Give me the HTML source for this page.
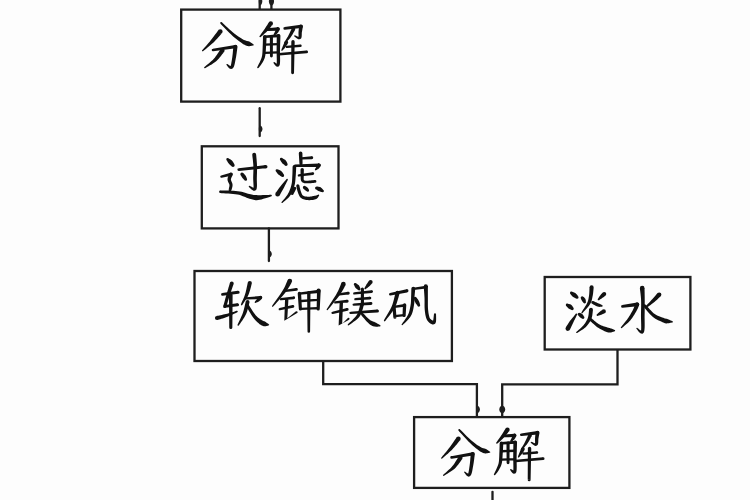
<!DOCTYPE html>
<html><head><meta charset="utf-8"><style>
html,body{margin:0;padding:0;background:#fdfdfd;width:750px;height:500px;overflow:hidden}
svg{display:block}
.w{}
</style></head><body>
<div class="w"><svg width="750" height="500" viewBox="0 0 750 500">
<g fill="none" stroke="#1e1e1e" stroke-width="2.3" stroke-linejoin="miter" stroke-linecap="butt">
<rect x="181.2" y="9.6" width="159.20" height="92.00"/>
<rect x="201.8" y="146.3" width="136.70" height="82.10"/>
<rect x="194.5" y="271.0" width="257.40" height="90.00"/>
<rect x="544.7" y="277.0" width="145.70" height="72.50"/>
<rect x="414.1" y="417.1" width="155.30" height="70.80"/>
<polyline points="259.7,0 259.7,9.6"/>
<polyline points="271.4,0 271.4,9.6"/>
<polyline points="323.2,361 323.2,384.1 476.9,384.1 476.9,417.1"/>
<polyline points="617.5,349.5 617.5,384.3 502.2,384.3 502.2,417.1"/>
<line x1="492.5" y1="491.8" x2="492.5" y2="502" stroke-linecap="round"/>
<line x1="259.7" y1="108.2" x2="259.7" y2="136" stroke-linecap="round"/>
<line x1="268.9" y1="228.4" x2="268.9" y2="261" stroke-linecap="round"/>
</g>
<g fill="#1e1e1e">
<path d="M259.7,-3 C261.14,-3 262.3,-1.10 262.3,1.25 C262.3,3.60 261.14,5.5 259.7,5.5 C259.20,5.5 258.8,3.60 258.8,1.25 C258.8,-1.10 259.20,-3 259.7,-3Z"/>
<path d="M271.4,-3 C272.84,-3 274.0,-1.10 274.0,1.25 C274.0,3.60 272.84,5.5 271.4,5.5 C270.02,5.5 268.9,3.60 268.9,1.25 C268.9,-1.10 270.02,-3 271.4,-3Z"/>
<path d="M259.7,125.5 C261.25,125.5 262.5,127.07 262.5,129.0 C262.5,130.93 261.25,132.5 259.7,132.5 C259.20,132.5 258.8,130.93 258.8,129.0 C258.8,127.07 259.20,125.5 259.7,125.5Z"/>
<path d="M268.9,250.5 C270.50,250.5 271.79999999999995,252.07 271.79999999999995,254.0 C271.79999999999995,255.93 270.50,257.5 268.9,257.5 C268.40,257.5 268.0,255.93 268.0,254.0 C268.0,252.07 268.40,250.5 268.9,250.5Z"/>
<path d="M476.9,405.8 C478.56,405.8 479.9,407.46 479.9,409.5 C479.9,411.54 478.56,413.2 476.9,413.2 C476.40,413.2 476.0,411.54 476.0,409.5 C476.0,407.46 476.40,405.8 476.9,405.8Z"/>
<path d="M502.2,405.8 C503.86,405.8 505.2,407.46 505.2,409.5 C505.2,411.54 503.86,413.2 502.2,413.2 C500.60,413.2 499.3,411.54 499.3,409.5 C499.3,407.46 500.60,405.8 502.2,405.8Z"/>
</g>
<g fill="#111" stroke="#111" stroke-width="1.1" stroke-linejoin="round">
<path stroke="none" d="M218.49,30.02 L217.88,30.84 L217.09,31.92 L216.16,33.20 L215.12,34.61 L214.02,36.10 L212.90,37.60 L211.80,39.04 L210.76,40.35 L209.68,41.66 L208.50,43.06 L207.25,44.49 L206.00,45.91 L204.81,47.25 L203.73,48.45 L202.83,49.47 L202.15,50.23 L203.05,51.17 L203.84,50.53 L204.90,49.68 L206.16,48.67 L207.56,47.54 L209.04,46.33 L210.52,45.09 L211.94,43.84 L213.24,42.65 L214.50,41.40 L215.79,40.05 L217.09,38.64 L218.35,37.24 L219.53,35.91 L220.58,34.71 L221.45,33.72 L222.11,32.98ZM217.96,31.50a2.34,2.34 0 1,0 4.68,0a2.34,2.34 0 1,0 -4.68,0ZM201.95,50.70a0.65,0.65 0 1,0 1.30,0a0.65,0.65 0 1,0 -1.30,0Z"/>
<path stroke="none" d="M220.47,23.74 L221.40,24.69 L222.65,25.98 L224.15,27.52 L225.80,29.22 L227.53,30.98 L229.26,32.71 L230.90,34.31 L232.37,35.68 L233.72,36.88 L235.04,38.01 L236.33,39.08 L237.59,40.07 L238.79,40.98 L239.93,41.82 L241.00,42.59 L242.00,43.27 L242.93,43.89 L243.79,44.42 L244.58,44.86 L245.31,45.23 L245.99,45.52 L246.62,45.75 L247.21,45.91 L247.84,46.05 L248.59,46.13 L249.38,46.13 L250.17,46.05 L250.91,45.93 L251.60,45.78 L252.20,45.64 L252.70,45.51 L253.08,45.44 L253.32,44.16 L252.99,43.95 L252.55,43.66 L252.04,43.32 L251.48,42.94 L250.89,42.56 L250.30,42.19 L249.73,41.85 L249.16,41.55 L248.54,41.32 L247.93,41.15 L247.37,41.02 L246.81,40.92 L246.23,40.79 L245.59,40.61 L244.86,40.34 L244.00,39.93 L243.01,39.39 L241.93,38.77 L240.76,38.07 L239.54,37.31 L238.26,36.47 L236.94,35.56 L235.60,34.57 L234.23,33.52 L232.74,32.27 L231.06,30.79 L229.28,29.17 L227.48,27.50 L225.77,25.88 L224.21,24.41 L222.90,23.16 L221.93,22.26ZM220.16,23.00a1.04,1.04 0 1,0 2.08,0a1.04,1.04 0 1,0 -2.08,0ZM252.55,44.80a0.65,0.65 0 1,0 1.30,0a0.65,0.65 0 1,0 -1.30,0Z"/>
<path stroke="none" d="M213.19,51.29 L235.75,48.27 L235.25,44.93 L212.81,48.71ZM211.70,50.00a1.30,1.30 0 1,0 2.60,0a1.30,1.30 0 1,0 -2.60,0ZM233.81,46.60a1.69,1.69 0 1,0 3.38,0a1.69,1.69 0 1,0 -3.38,0Z"/>
<path stroke="none" d="M233.33,46.56 L233.25,47.45 L233.15,48.64 L233.03,50.04 L232.90,51.59 L232.75,53.21 L232.58,54.81 L232.40,56.33 L232.21,57.69 L232.00,59.04 L231.78,60.46 L231.55,61.87 L231.31,63.21 L231.06,64.42 L230.80,65.40 L230.58,66.05 L230.58,66.22 L230.98,66.15 L230.99,66.23 L230.52,66.10 L229.85,65.76 L229.14,65.29 L228.46,64.79 L227.85,64.36 L227.41,64.09 L226.59,65.11 L226.89,65.44 L227.30,65.98 L227.83,66.67 L228.45,67.42 L229.15,68.14 L230.00,68.76 L231.22,69.08 L232.62,68.58 L233.44,67.59 L233.95,66.50 L234.35,65.28 L234.69,63.94 L234.99,62.51 L235.27,61.06 L235.53,59.65 L235.79,58.31 L236.07,56.89 L236.33,55.32 L236.57,53.67 L236.80,52.03 L237.01,50.48 L237.19,49.07 L237.35,47.90 L237.47,47.04ZM233.32,46.80a2.08,2.08 0 1,0 4.16,0a2.08,2.08 0 1,0 -4.16,0ZM226.35,64.60a0.65,0.65 0 1,0 1.30,0a0.65,0.65 0 1,0 -1.30,0Z"/>
<path stroke="none" d="M220.62,49.10 L220.08,49.89 L219.39,50.95 L218.60,52.19 L217.71,53.54 L216.76,54.95 L215.78,56.34 L214.79,57.64 L213.82,58.79 L212.76,59.90 L211.50,61.08 L210.14,62.29 L208.74,63.47 L207.38,64.58 L206.14,65.58 L205.10,66.42 L204.33,67.07 L205.07,68.13 L205.93,67.63 L207.09,66.99 L208.49,66.21 L210.04,65.33 L211.66,64.38 L213.27,63.36 L214.80,62.30 L216.18,61.21 L217.44,60.02 L218.68,58.69 L219.86,57.30 L220.98,55.91 L221.99,54.58 L222.88,53.39 L223.62,52.41 L224.18,51.70ZM220.19,50.40a2.21,2.21 0 1,0 4.42,0a2.21,2.21 0 1,0 -4.42,0ZM204.05,67.60a0.65,0.65 0 1,0 1.30,0a0.65,0.65 0 1,0 -1.30,0Z"/>
<path stroke="none" d="M269.00,22.12 L268.66,22.66 L268.22,23.37 L267.70,24.21 L267.13,25.13 L266.51,26.11 L265.89,27.09 L265.27,28.05 L264.69,28.94 L264.07,29.83 L263.38,30.82 L262.65,31.84 L261.91,32.85 L261.20,33.82 L260.56,34.69 L260.02,35.42 L259.62,35.98 L260.78,37.02 L261.28,36.57 L261.97,35.98 L262.78,35.27 L263.69,34.47 L264.64,33.62 L265.59,32.75 L266.49,31.89 L267.31,31.06 L268.09,30.22 L268.88,29.31 L269.65,28.38 L270.40,27.46 L271.09,26.59 L271.70,25.81 L272.21,25.16 L272.60,24.68ZM268.59,23.40a2.21,2.21 0 1,0 4.42,0a2.21,2.21 0 1,0 -4.42,0ZM259.42,36.50a0.78,0.78 0 1,0 1.56,0a0.78,0.78 0 1,0 -1.56,0Z"/>
<path stroke="none" d="M267.07,30.90 L278.09,30.69 L277.91,27.31 L266.93,28.30ZM265.70,29.60a1.30,1.30 0 1,0 2.60,0a1.30,1.30 0 1,0 -2.60,0ZM276.31,29.00a1.69,1.69 0 1,0 3.38,0a1.69,1.69 0 1,0 -3.38,0Z"/>
<path stroke="none" d="M276.36,28.21 L276.26,28.47 L276.12,28.81 L275.97,29.19 L275.81,29.60 L275.64,30.03 L275.48,30.45 L275.32,30.83 L275.18,31.16 L275.04,31.49 L274.87,31.86 L274.68,32.26 L274.47,32.65 L274.27,33.04 L274.09,33.39 L273.92,33.69 L273.80,33.92 L275.20,35.08 L275.39,34.93 L275.66,34.74 L275.98,34.50 L276.34,34.22 L276.72,33.91 L277.11,33.58 L277.48,33.22 L277.82,32.84 L278.12,32.42 L278.42,31.98 L278.69,31.53 L278.94,31.09 L279.17,30.67 L279.36,30.30 L279.52,30.00 L279.64,29.79ZM276.18,29.00a1.82,1.82 0 1,0 3.64,0a1.82,1.82 0 1,0 -3.64,0ZM273.59,34.50a0.91,0.91 0 1,0 1.82,0a0.91,0.91 0 1,0 -1.82,0Z"/>
<path stroke="none" d="M262.98,36.73 L262.96,37.44 L262.94,38.37 L262.92,39.47 L262.89,40.71 L262.85,42.01 L262.81,43.35 L262.77,44.66 L262.71,45.90 L262.66,47.15 L262.61,48.45 L262.56,49.76 L262.51,51.07 L262.44,52.34 L262.34,53.56 L262.22,54.68 L262.07,55.69 L261.88,56.59 L261.65,57.43 L261.40,58.22 L261.11,58.98 L260.81,59.71 L260.49,60.44 L260.16,61.18 L259.84,61.90 L259.53,62.63 L259.18,63.37 L258.81,64.12 L258.43,64.85 L258.07,65.53 L257.74,66.15 L257.46,66.67 L257.24,67.08 L258.56,67.92 L258.83,67.58 L259.20,67.13 L259.65,66.58 L260.15,65.96 L260.67,65.29 L261.20,64.57 L261.70,63.83 L262.16,63.10 L262.56,62.39 L262.97,61.68 L263.37,60.94 L263.78,60.15 L264.16,59.30 L264.52,58.38 L264.85,57.39 L265.13,56.31 L265.35,55.14 L265.53,53.90 L265.66,52.60 L265.77,51.27 L265.85,49.93 L265.93,48.60 L266.00,47.32 L266.09,46.10 L266.18,44.84 L266.26,43.51 L266.34,42.16 L266.41,40.84 L266.48,39.61 L266.53,38.50 L266.58,37.57 L266.62,36.87ZM262.98,36.80a1.82,1.82 0 1,0 3.64,0a1.82,1.82 0 1,0 -3.64,0ZM257.12,67.50a0.78,0.78 0 1,0 1.56,0a0.78,0.78 0 1,0 -1.56,0Z"/>
<path stroke="none" d="M264.89,38.10 L278.71,37.36 L278.49,34.24 L264.71,35.50ZM263.50,36.80a1.30,1.30 0 1,0 2.60,0a1.30,1.30 0 1,0 -2.60,0ZM277.04,35.80a1.56,1.56 0 1,0 3.12,0a1.56,1.56 0 1,0 -3.12,0Z"/>
<path stroke="none" d="M276.78,35.76 L276.77,36.85 L276.75,38.30 L276.72,40.02 L276.70,41.94 L276.67,43.97 L276.65,46.04 L276.63,48.07 L276.61,49.98 L276.62,51.95 L276.66,54.08 L276.71,56.28 L276.76,58.44 L276.79,60.45 L276.77,62.20 L276.71,63.56 L276.62,64.30 L276.84,64.17 L277.49,64.06 L277.41,64.10 L276.90,63.85 L276.28,63.41 L275.67,62.91 L275.11,62.46 L274.70,62.20 L273.70,63.40 L273.94,63.68 L274.31,64.20 L274.79,64.87 L275.37,65.60 L276.07,66.28 L277.10,66.81 L278.68,66.51 L279.58,65.30 L279.90,63.94 L280.04,62.34 L280.10,60.46 L280.09,58.39 L280.05,56.21 L280.00,54.02 L279.97,51.92 L279.99,50.02 L280.04,48.13 L280.10,46.11 L280.16,44.04 L280.23,42.01 L280.29,40.10 L280.34,38.38 L280.39,36.93 L280.42,35.84ZM276.78,35.80a1.82,1.82 0 1,0 3.64,0a1.82,1.82 0 1,0 -3.64,0ZM273.42,62.80a0.78,0.78 0 1,0 1.56,0a0.78,0.78 0 1,0 -1.56,0Z"/>
<path stroke="none" d="M269.84,36.50 L269.97,56.00 L272.83,56.00 L272.96,36.50ZM269.84,36.50a1.56,1.56 0 1,0 3.12,0a1.56,1.56 0 1,0 -3.12,0ZM269.97,56.00a1.43,1.43 0 1,0 2.86,0a1.43,1.43 0 1,0 -2.86,0Z"/>
<path stroke="none" d="M265.04,45.77 L278.14,45.27 L278.06,42.93 L264.96,43.43ZM263.83,44.60a1.17,1.17 0 1,0 2.34,0a1.17,1.17 0 1,0 -2.34,0ZM276.93,44.10a1.17,1.17 0 1,0 2.34,0a1.17,1.17 0 1,0 -2.34,0Z"/>
<path stroke="none" d="M264.63,53.97 L278.13,53.57 L278.07,51.23 L264.57,51.63ZM263.43,52.80a1.17,1.17 0 1,0 2.34,0a1.17,1.17 0 1,0 -2.34,0ZM276.93,52.40a1.17,1.17 0 1,0 2.34,0a1.17,1.17 0 1,0 -2.34,0Z"/>
<path stroke="none" d="M284.86,29.69 L301.21,28.08 L300.79,24.72 L284.54,27.11ZM283.40,28.40a1.30,1.30 0 1,0 2.60,0a1.30,1.30 0 1,0 -2.60,0ZM299.31,26.40a1.69,1.69 0 1,0 3.38,0a1.69,1.69 0 1,0 -3.38,0Z"/>
<path stroke="none" d="M299.07,26.12 L299.03,26.55 L298.97,27.12 L298.90,27.80 L298.82,28.56 L298.74,29.38 L298.66,30.21 L298.59,31.02 L298.52,31.83 L298.48,32.71 L298.50,33.64 L298.53,34.55 L298.56,35.40 L298.56,36.14 L298.54,36.68 L298.53,36.90 L298.79,36.72 L299.13,36.67 L298.91,36.72 L298.35,36.63 L297.63,36.41 L296.88,36.13 L296.16,35.83 L295.54,35.57 L295.09,35.42 L294.51,36.58 L294.86,36.83 L295.36,37.22 L295.99,37.71 L296.69,38.23 L297.45,38.72 L298.25,39.14 L299.21,39.37 L300.41,39.08 L301.22,38.17 L301.54,37.26 L301.69,36.36 L301.74,35.44 L301.76,34.52 L301.77,33.64 L301.80,32.84 L301.88,32.17 L302.01,31.47 L302.15,30.69 L302.30,29.89 L302.45,29.10 L302.60,28.35 L302.73,27.68 L302.85,27.11 L302.93,26.68ZM299.05,26.40a1.95,1.95 0 1,0 3.90,0a1.95,1.95 0 1,0 -3.90,0ZM294.15,36.00a0.65,0.65 0 1,0 1.30,0a0.65,0.65 0 1,0 -1.30,0Z"/>
<path stroke="none" d="M291.88,28.16 L291.60,28.77 L291.23,29.58 L290.79,30.53 L290.31,31.58 L289.80,32.67 L289.28,33.77 L288.77,34.81 L288.29,35.74 L287.79,36.65 L287.23,37.62 L286.64,38.62 L286.04,39.60 L285.47,40.53 L284.95,41.36 L284.51,42.07 L284.18,42.61 L285.22,43.39 L285.64,42.94 L286.21,42.35 L286.90,41.64 L287.66,40.84 L288.46,39.97 L289.25,39.07 L290.02,38.16 L290.71,37.26 L291.36,36.31 L292.02,35.27 L292.67,34.19 L293.29,33.11 L293.86,32.08 L294.37,31.16 L294.79,30.40 L295.12,29.84ZM291.68,29.00a1.82,1.82 0 1,0 3.64,0a1.82,1.82 0 1,0 -3.64,0ZM284.05,43.00a0.65,0.65 0 1,0 1.30,0a0.65,0.65 0 1,0 -1.30,0Z"/>
<path stroke="none" d="M284.79,41.55 L284.64,41.88 L284.45,42.33 L284.22,42.86 L283.96,43.44 L283.70,44.05 L283.43,44.66 L283.18,45.25 L282.96,45.79 L282.75,46.32 L282.52,46.89 L282.28,47.48 L282.05,48.06 L281.84,48.62 L281.64,49.11 L281.48,49.54 L281.35,49.85 L282.45,50.55 L282.68,50.30 L282.99,49.97 L283.36,49.59 L283.77,49.15 L284.20,48.68 L284.64,48.19 L285.06,47.70 L285.44,47.21 L285.81,46.71 L286.18,46.15 L286.56,45.58 L286.92,45.00 L287.26,44.45 L287.57,43.96 L287.82,43.55 L288.01,43.25ZM284.58,42.40a1.82,1.82 0 1,0 3.64,0a1.82,1.82 0 1,0 -3.64,0ZM281.25,50.20a0.65,0.65 0 1,0 1.30,0a0.65,0.65 0 1,0 -1.30,0Z"/>
<path stroke="none" d="M287.10,48.07 L300.51,47.10 L300.29,44.50 L286.90,45.73ZM285.83,46.90a1.17,1.17 0 1,0 2.34,0a1.17,1.17 0 1,0 -2.34,0ZM299.10,45.80a1.30,1.30 0 1,0 2.60,0a1.30,1.30 0 1,0 -2.60,0Z"/>
<path stroke="none" d="M279.11,55.50 L306.72,53.33 L306.48,50.47 L278.89,52.90ZM277.70,54.20a1.30,1.30 0 1,0 2.60,0a1.30,1.30 0 1,0 -2.60,0ZM305.17,51.90a1.43,1.43 0 1,0 2.86,0a1.43,1.43 0 1,0 -2.86,0Z"/>
<path stroke="none" d="M291.31,41.78 L291.17,72.78 L294.03,72.82 L294.69,41.82ZM291.31,41.80a1.69,1.69 0 1,0 3.38,0a1.69,1.69 0 1,0 -3.38,0ZM291.17,72.80a1.43,1.43 0 1,0 2.86,0a1.43,1.43 0 1,0 -2.86,0Z"/>
<path stroke="none" d="M226.71,160.34 L226.88,160.62 L227.11,160.99 L227.38,161.43 L227.67,161.91 L227.98,162.40 L228.29,162.88 L228.59,163.32 L228.87,163.69 L229.17,164.04 L229.54,164.41 L229.94,164.79 L230.35,165.16 L230.75,165.52 L231.12,165.85 L231.44,166.13 L231.67,166.35 L234.33,164.25 L234.18,163.99 L234.00,163.62 L233.77,163.18 L233.51,162.69 L233.21,162.17 L232.88,161.65 L232.52,161.15 L232.13,160.71 L231.68,160.31 L231.18,159.95 L230.65,159.61 L230.12,159.30 L229.61,159.03 L229.15,158.80 L228.77,158.61 L228.49,158.46ZM226.30,159.40a1.30,1.30 0 1,0 2.60,0a1.30,1.30 0 1,0 -2.60,0ZM231.31,165.30a1.69,1.69 0 1,0 3.38,0a1.69,1.69 0 1,0 -3.38,0Z"/>
<path stroke="none" d="M221.68,177.74 L231.38,175.71 L230.62,172.69 L221.12,175.46ZM220.23,176.60a1.17,1.17 0 1,0 2.34,0a1.17,1.17 0 1,0 -2.34,0ZM229.44,174.20a1.56,1.56 0 1,0 3.12,0a1.56,1.56 0 1,0 -3.12,0Z"/>
<path stroke="none" d="M229.31,173.52 L229.17,173.90 L228.95,174.41 L228.67,175.08 L228.36,175.85 L228.05,176.69 L227.78,177.59 L227.58,178.52 L227.51,179.51 L227.63,180.49 L227.90,181.37 L228.23,182.16 L228.59,182.86 L228.91,183.49 L229.18,184.06 L229.36,184.53 L229.45,184.94 L229.46,185.41 L229.41,186.01 L229.31,186.68 L229.17,187.37 L229.01,188.05 L228.85,188.67 L228.70,189.23 L228.61,189.67 L231.39,190.33 L231.49,189.97 L231.64,189.46 L231.84,188.82 L232.06,188.09 L232.26,187.29 L232.43,186.45 L232.54,185.57 L232.55,184.66 L232.41,183.75 L232.15,182.91 L231.83,182.15 L231.51,181.45 L231.24,180.83 L231.03,180.28 L230.91,179.84 L230.89,179.49 L230.95,179.08 L231.10,178.52 L231.33,177.87 L231.62,177.19 L231.93,176.52 L232.23,175.89 L232.50,175.32 L232.69,174.88ZM229.18,174.20a1.82,1.82 0 1,0 3.64,0a1.82,1.82 0 1,0 -3.64,0ZM228.57,190.00a1.43,1.43 0 1,0 2.86,0a1.43,1.43 0 1,0 -2.86,0Z"/>
<path stroke="none" d="M220.34,193.10 L221.71,193.19 L223.56,193.28 L225.75,193.39 L228.17,193.53 L230.66,193.70 L233.12,193.91 L235.39,194.16 L237.33,194.47 L239.03,194.86 L240.65,195.35 L242.21,195.90 L243.73,196.49 L245.20,197.09 L246.65,197.68 L248.07,198.21 L249.45,198.64 L250.64,198.99 L251.65,199.31 L252.60,199.60 L253.55,199.85 L254.54,200.04 L255.62,200.15 L256.79,200.16 L258.13,200.07 L259.72,199.81 L261.51,199.40 L263.41,198.87 L265.33,198.29 L267.16,197.69 L268.83,197.14 L270.21,196.69 L271.23,196.37 L270.97,194.83 L269.90,194.87 L268.43,194.92 L266.68,194.99 L264.77,195.05 L262.82,195.11 L260.93,195.15 L259.25,195.16 L257.87,195.13 L256.78,195.10 L255.87,195.06 L255.10,195.02 L254.37,194.96 L253.60,194.88 L252.73,194.75 L251.71,194.58 L250.55,194.36 L249.31,194.08 L248.00,193.71 L246.56,193.27 L245.02,192.80 L243.38,192.31 L241.63,191.85 L239.79,191.44 L237.87,191.13 L235.73,190.92 L233.35,190.77 L230.83,190.67 L228.28,190.61 L225.85,190.57 L223.65,190.55 L221.81,190.53 L220.46,190.50ZM219.10,191.80a1.30,1.30 0 1,0 2.60,0a1.30,1.30 0 1,0 -2.60,0ZM270.32,195.60a0.78,0.78 0 1,0 1.56,0a0.78,0.78 0 1,0 -1.56,0Z"/>
<path stroke="none" d="M238.84,170.89 L262.66,168.55 L265.81,168.62 L265.59,164.98 L262.34,165.45 L238.56,168.31ZM237.40,169.60a1.30,1.30 0 1,0 2.60,0a1.30,1.30 0 1,0 -2.60,0ZM263.88,166.80a1.82,1.82 0 1,0 3.64,0a1.82,1.82 0 1,0 -3.64,0Z"/>
<path stroke="none" d="M252.26,154.79 L252.36,155.69 L252.49,156.88 L252.66,158.29 L252.84,159.84 L253.01,161.49 L253.17,163.16 L253.30,164.77 L253.38,166.26 L253.42,167.69 L253.42,169.14 L253.39,170.61 L253.35,172.09 L253.30,173.56 L253.24,175.04 L253.20,176.51 L253.18,177.99 L253.21,179.55 L253.29,181.20 L253.39,182.85 L253.48,184.44 L253.54,185.89 L253.55,187.09 L253.49,187.91 L253.51,188.12 L253.97,187.89 L254.05,187.94 L253.53,187.84 L252.77,187.52 L251.94,187.07 L251.13,186.60 L250.43,186.18 L249.91,185.94 L249.09,187.26 L249.46,187.57 L250.01,188.09 L250.71,188.75 L251.51,189.45 L252.38,190.11 L253.37,190.63 L254.72,190.76 L256.09,189.88 L256.65,188.63 L256.87,187.34 L256.96,185.90 L256.96,184.33 L256.91,182.69 L256.85,181.04 L256.81,179.46 L256.82,178.01 L256.86,176.61 L256.91,175.16 L256.96,173.68 L257.00,172.19 L257.03,170.68 L257.05,169.17 L257.05,167.65 L257.02,166.14 L256.95,164.55 L256.85,162.87 L256.73,161.16 L256.59,159.48 L256.45,157.90 L256.32,156.48 L256.21,155.30 L256.14,154.41ZM252.25,154.60a1.95,1.95 0 1,0 3.90,0a1.95,1.95 0 1,0 -3.90,0ZM248.72,186.60a0.78,0.78 0 1,0 1.56,0a0.78,0.78 0 1,0 -1.56,0Z"/>
<path stroke="none" d="M240.67,175.24 L240.81,175.46 L240.99,175.75 L241.20,176.10 L241.43,176.48 L241.68,176.87 L241.93,177.26 L242.18,177.62 L242.41,177.93 L242.65,178.23 L242.93,178.54 L243.23,178.87 L243.54,179.18 L243.83,179.49 L244.10,179.76 L244.33,179.99 L244.50,180.17 L246.90,178.63 L246.81,178.41 L246.70,178.11 L246.57,177.75 L246.41,177.34 L246.23,176.91 L246.04,176.48 L245.82,176.06 L245.59,175.67 L245.32,175.30 L245.01,174.92 L244.69,174.55 L244.35,174.20 L244.03,173.87 L243.74,173.58 L243.51,173.34 L243.33,173.16ZM240.31,174.20a1.69,1.69 0 1,0 3.38,0a1.69,1.69 0 1,0 -3.38,0ZM244.27,179.40a1.43,1.43 0 1,0 2.86,0a1.43,1.43 0 1,0 -2.86,0Z"/>
<path stroke="none" d="M280.34,160.36 L280.50,160.59 L280.70,160.91 L280.93,161.27 L281.18,161.67 L281.44,162.07 L281.71,162.47 L281.97,162.83 L282.21,163.13 L282.47,163.40 L282.79,163.70 L283.15,164.01 L283.51,164.31 L283.87,164.60 L284.20,164.87 L284.49,165.10 L284.70,165.28 L287.30,163.12 L287.18,162.90 L287.02,162.58 L286.83,162.20 L286.60,161.77 L286.34,161.32 L286.06,160.88 L285.74,160.45 L285.39,160.07 L285.00,159.73 L284.57,159.43 L284.11,159.15 L283.65,158.91 L283.21,158.69 L282.82,158.51 L282.49,158.36 L282.26,158.24ZM279.87,159.30a1.43,1.43 0 1,0 2.86,0a1.43,1.43 0 1,0 -2.86,0ZM284.31,164.20a1.69,1.69 0 1,0 3.38,0a1.69,1.69 0 1,0 -3.38,0Z"/>
<path stroke="none" d="M276.13,171.73 L276.30,171.96 L276.53,172.26 L276.80,172.62 L277.09,173.01 L277.40,173.42 L277.73,173.81 L278.05,174.17 L278.36,174.48 L278.71,174.76 L279.13,175.06 L279.58,175.35 L280.05,175.64 L280.50,175.92 L280.92,176.16 L281.27,176.37 L281.53,176.54 L283.67,174.26 L283.50,174.02 L283.28,173.68 L283.01,173.28 L282.70,172.83 L282.37,172.37 L282.01,171.91 L281.63,171.49 L281.24,171.12 L280.81,170.81 L280.34,170.53 L279.85,170.28 L279.36,170.06 L278.89,169.87 L278.48,169.71 L278.13,169.58 L277.87,169.47ZM275.57,170.60a1.43,1.43 0 1,0 2.86,0a1.43,1.43 0 1,0 -2.86,0ZM281.04,175.40a1.56,1.56 0 1,0 3.12,0a1.56,1.56 0 1,0 -3.12,0Z"/>
<path stroke="none" d="M279.57,195.46 L279.88,194.91 L280.30,194.17 L280.79,193.30 L281.34,192.33 L281.92,191.30 L282.51,190.24 L283.09,189.19 L283.63,188.19 L284.16,187.16 L284.75,186.03 L285.35,184.84 L285.94,183.66 L286.50,182.53 L287.01,181.52 L287.43,180.67 L287.75,180.03 L286.45,179.17 L285.99,179.71 L285.37,180.44 L284.64,181.30 L283.82,182.26 L282.97,183.28 L282.12,184.30 L281.31,185.29 L280.57,186.21 L279.88,187.11 L279.15,188.07 L278.43,189.05 L277.73,190.02 L277.08,190.92 L276.49,191.74 L276.00,192.42 L275.63,192.94ZM275.26,194.20a2.34,2.34 0 1,0 4.68,0a2.34,2.34 0 1,0 -4.68,0ZM286.32,179.60a0.78,0.78 0 1,0 1.56,0a0.78,0.78 0 1,0 -1.56,0Z"/>
<path stroke="none" d="M298.78,153.27 L299.44,163.66 L302.56,163.54 L302.42,153.13ZM298.78,153.20a1.82,1.82 0 1,0 3.64,0a1.82,1.82 0 1,0 -3.64,0ZM299.44,163.60a1.56,1.56 0 1,0 3.12,0a1.56,1.56 0 1,0 -3.12,0Z"/>
<path stroke="none" d="M301.77,159.57 L311.88,159.23 L311.72,156.37 L301.63,157.23ZM300.53,158.40a1.17,1.17 0 1,0 2.34,0a1.17,1.17 0 1,0 -2.34,0ZM310.37,157.80a1.43,1.43 0 1,0 2.86,0a1.43,1.43 0 1,0 -2.86,0Z"/>
<path stroke="none" d="M295.03,167.10 L319.04,166.89 L318.96,163.51 L294.97,164.50ZM293.70,165.80a1.30,1.30 0 1,0 2.60,0a1.30,1.30 0 1,0 -2.60,0ZM317.31,165.20a1.69,1.69 0 1,0 3.38,0a1.69,1.69 0 1,0 -3.38,0Z"/>
<path stroke="none" d="M317.41,164.32 L317.31,164.53 L317.18,164.81 L317.05,165.11 L316.90,165.44 L316.75,165.77 L316.60,166.10 L316.47,166.40 L316.37,166.65 L316.25,166.91 L316.10,167.22 L315.91,167.56 L315.72,167.91 L315.52,168.25 L315.34,168.56 L315.18,168.83 L315.06,169.04 L316.14,170.16 L316.34,170.06 L316.61,169.94 L316.94,169.78 L317.31,169.59 L317.70,169.37 L318.09,169.13 L318.48,168.86 L318.83,168.55 L319.15,168.21 L319.45,167.84 L319.71,167.47 L319.95,167.11 L320.16,166.77 L320.34,166.47 L320.48,166.24 L320.59,166.08ZM317.18,165.20a1.82,1.82 0 1,0 3.64,0a1.82,1.82 0 1,0 -3.64,0ZM314.82,169.60a0.78,0.78 0 1,0 1.56,0a0.78,0.78 0 1,0 -1.56,0Z"/>
<path stroke="none" d="M292.58,166.73 L292.56,167.45 L292.55,168.40 L292.53,169.53 L292.50,170.77 L292.47,172.09 L292.43,173.41 L292.38,174.69 L292.31,175.89 L292.25,177.02 L292.20,178.15 L292.15,179.26 L292.09,180.34 L292.01,181.41 L291.89,182.47 L291.72,183.54 L291.49,184.62 L291.19,185.76 L290.85,186.95 L290.47,188.14 L290.05,189.33 L289.58,190.51 L289.09,191.66 L288.56,192.77 L288.00,193.83 L287.34,194.89 L286.53,196.04 L285.62,197.22 L284.67,198.38 L283.74,199.48 L282.89,200.47 L282.16,201.31 L281.63,201.95 L282.57,202.85 L283.18,202.31 L284.02,201.62 L285.03,200.77 L286.15,199.82 L287.31,198.78 L288.45,197.68 L289.51,196.53 L290.40,195.37 L291.15,194.19 L291.81,192.96 L292.39,191.70 L292.92,190.42 L293.38,189.13 L293.80,187.85 L294.17,186.60 L294.51,185.38 L294.81,184.16 L295.04,182.95 L295.21,181.77 L295.33,180.61 L295.43,179.47 L295.51,178.35 L295.59,177.24 L295.69,176.11 L295.79,174.90 L295.88,173.58 L295.95,172.23 L296.02,170.90 L296.09,169.64 L296.14,168.52 L296.18,167.57 L296.22,166.87ZM292.58,166.80a1.82,1.82 0 1,0 3.64,0a1.82,1.82 0 1,0 -3.64,0ZM281.45,202.40a0.65,0.65 0 1,0 1.30,0a0.65,0.65 0 1,0 -1.30,0Z"/>
<path stroke="none" d="M299.05,176.56 L313.07,174.89 L312.73,172.31 L298.75,174.24ZM297.73,175.40a1.17,1.17 0 1,0 2.34,0a1.17,1.17 0 1,0 -2.34,0ZM311.60,173.60a1.30,1.30 0 1,0 2.60,0a1.30,1.30 0 1,0 -2.60,0Z"/>
<path stroke="none" d="M300.51,169.59 L300.52,170.09 L300.52,170.78 L300.53,171.60 L300.54,172.50 L300.56,173.45 L300.58,174.39 L300.60,175.27 L300.64,176.03 L300.67,176.68 L300.67,177.33 L300.68,177.98 L300.69,178.64 L300.74,179.31 L300.84,179.99 L301.04,180.68 L301.37,181.32 L301.75,181.83 L302.18,182.26 L302.69,182.61 L303.25,182.87 L303.85,183.05 L304.47,183.16 L305.15,183.24 L305.94,183.30 L306.93,183.32 L308.13,183.29 L309.46,183.23 L310.83,183.14 L312.16,183.04 L313.38,182.95 L314.39,182.87 L315.12,182.83 L314.88,179.97 L314.14,180.05 L313.12,180.16 L311.91,180.30 L310.60,180.44 L309.27,180.56 L308.00,180.66 L306.90,180.71 L306.06,180.70 L305.42,180.65 L304.90,180.57 L304.52,180.48 L304.27,180.38 L304.13,180.28 L304.03,180.18 L303.94,180.05 L303.83,179.88 L303.76,179.70 L303.72,179.44 L303.69,179.07 L303.68,178.58 L303.70,178.01 L303.73,177.38 L303.75,176.68 L303.76,175.97 L303.76,175.22 L303.77,174.37 L303.79,173.45 L303.81,172.52 L303.83,171.63 L303.86,170.81 L303.88,170.12 L303.89,169.61ZM300.51,169.60a1.69,1.69 0 1,0 3.38,0a1.69,1.69 0 1,0 -3.38,0ZM313.57,181.40a1.43,1.43 0 1,0 2.86,0a1.43,1.43 0 1,0 -2.86,0Z"/>
<path stroke="none" d="M293.06,187.71 L291.01,193.27 L293.39,194.33 L296.14,189.09ZM292.91,188.40a1.69,1.69 0 1,0 3.38,0a1.69,1.69 0 1,0 -3.38,0ZM290.90,193.80a1.30,1.30 0 1,0 2.60,0a1.30,1.30 0 1,0 -2.60,0Z"/>
<path stroke="none" d="M296.28,186.16 L296.40,186.64 L296.54,187.29 L296.72,188.08 L296.92,188.96 L297.14,189.89 L297.39,190.82 L297.65,191.72 L297.93,192.52 L298.19,193.22 L298.44,193.91 L298.71,194.62 L299.02,195.34 L299.38,196.06 L299.83,196.77 L300.39,197.44 L301.06,198.05 L301.82,198.54 L302.63,198.94 L303.48,199.27 L304.35,199.52 L305.24,199.73 L306.13,199.88 L307.02,200.00 L307.91,200.09 L308.85,200.14 L309.85,200.15 L310.86,200.12 L311.88,200.05 L312.88,199.94 L313.83,199.79 L314.71,199.59 L315.53,199.34 L316.30,198.98 L316.97,198.51 L317.51,198.00 L317.94,197.48 L318.27,197.00 L318.52,196.58 L318.71,196.25 L318.87,196.02 L317.93,194.78 L317.61,194.91 L317.22,195.08 L316.79,195.25 L316.34,195.42 L315.86,195.56 L315.39,195.68 L314.94,195.78 L314.47,195.86 L313.87,195.97 L313.13,196.12 L312.31,196.27 L311.44,196.42 L310.56,196.55 L309.68,196.65 L308.85,196.71 L308.09,196.71 L307.34,196.67 L306.57,196.60 L305.82,196.51 L305.10,196.38 L304.44,196.21 L303.84,196.02 L303.34,195.79 L302.94,195.55 L302.62,195.28 L302.34,194.95 L302.08,194.53 L301.83,194.04 L301.60,193.47 L301.36,192.84 L301.12,192.16 L300.87,191.48 L300.63,190.78 L300.40,189.99 L300.17,189.12 L299.96,188.24 L299.76,187.39 L299.59,186.61 L299.44,185.94 L299.32,185.44ZM296.24,185.80a1.56,1.56 0 1,0 3.12,0a1.56,1.56 0 1,0 -3.12,0ZM317.62,195.40a0.78,0.78 0 1,0 1.56,0a0.78,0.78 0 1,0 -1.56,0Z"/>
<path stroke="none" d="M303.46,188.64 L303.59,188.77 L303.76,188.95 L303.95,189.15 L304.16,189.37 L304.38,189.60 L304.60,189.81 L304.81,190.01 L305.00,190.16 L305.20,190.31 L305.44,190.46 L305.71,190.62 L305.98,190.79 L306.25,190.94 L306.50,191.09 L306.71,191.21 L306.87,191.31 L308.73,189.49 L308.64,189.34 L308.54,189.13 L308.40,188.87 L308.24,188.59 L308.06,188.29 L307.86,187.98 L307.64,187.70 L307.40,187.44 L307.14,187.20 L306.84,186.99 L306.54,186.80 L306.24,186.63 L305.95,186.47 L305.70,186.34 L305.49,186.24 L305.34,186.16ZM302.84,187.40a1.56,1.56 0 1,0 3.12,0a1.56,1.56 0 1,0 -3.12,0ZM306.50,190.40a1.30,1.30 0 1,0 2.60,0a1.30,1.30 0 1,0 -2.60,0Z"/>
<path stroke="none" d="M316.04,189.46 L316.27,189.60 L316.56,189.78 L316.89,190.00 L317.25,190.23 L317.62,190.47 L318.00,190.70 L318.35,190.90 L318.67,191.06 L319.01,191.20 L319.43,191.34 L319.90,191.49 L320.38,191.64 L320.85,191.78 L321.27,191.91 L321.64,192.02 L321.92,192.11 L323.28,189.89 L323.10,189.70 L322.85,189.42 L322.54,189.08 L322.20,188.71 L321.81,188.33 L321.41,187.96 L320.98,187.62 L320.53,187.34 L320.06,187.12 L319.56,186.96 L319.06,186.83 L318.57,186.74 L318.12,186.67 L317.72,186.62 L317.39,186.58 L317.16,186.54ZM315.04,188.00a1.56,1.56 0 1,0 3.12,0a1.56,1.56 0 1,0 -3.12,0ZM321.30,191.00a1.30,1.30 0 1,0 2.60,0a1.30,1.30 0 1,0 -2.60,0Z"/>
<path stroke="none" d="M222.58,295.69 L238.32,293.74 L237.88,290.66 L222.22,293.11ZM221.10,294.40a1.30,1.30 0 1,0 2.60,0a1.30,1.30 0 1,0 -2.60,0ZM236.54,292.20a1.56,1.56 0 1,0 3.12,0a1.56,1.56 0 1,0 -3.12,0Z"/>
<path stroke="none" d="M229.94,282.80 L229.70,283.61 L229.39,284.67 L229.01,285.94 L228.59,287.36 L228.14,288.88 L227.67,290.44 L227.22,292.00 L226.78,293.51 L226.34,295.07 L225.85,296.80 L225.34,298.61 L224.84,300.42 L224.36,302.14 L223.93,303.69 L223.57,305.00 L223.30,305.97 L226.30,306.83 L226.59,305.86 L226.97,304.56 L227.43,303.02 L227.93,301.31 L228.47,299.52 L229.01,297.73 L229.53,296.02 L230.02,294.49 L230.50,293.03 L231.01,291.51 L231.54,289.98 L232.06,288.49 L232.56,287.10 L233.00,285.85 L233.37,284.80 L233.66,284.00ZM229.85,283.40a1.95,1.95 0 1,0 3.90,0a1.95,1.95 0 1,0 -3.90,0ZM223.24,306.40a1.56,1.56 0 1,0 3.12,0a1.56,1.56 0 1,0 -3.12,0Z"/>
<path stroke="none" d="M224.98,307.82 L237.69,306.35 L237.31,303.25 L224.62,304.98ZM223.37,306.40a1.43,1.43 0 1,0 2.86,0a1.43,1.43 0 1,0 -2.86,0ZM235.94,304.80a1.56,1.56 0 1,0 3.12,0a1.56,1.56 0 1,0 -3.12,0Z"/>
<path stroke="none" d="M228.98,295.00 L229.24,327.40 L232.36,327.40 L232.62,295.00ZM228.98,295.00a1.82,1.82 0 1,0 3.64,0a1.82,1.82 0 1,0 -3.64,0ZM229.24,327.40a1.56,1.56 0 1,0 3.12,0a1.56,1.56 0 1,0 -3.12,0Z"/>
<path stroke="none" d="M217.52,320.01 L218.21,319.80 L219.12,319.52 L220.22,319.18 L221.45,318.80 L222.76,318.39 L224.12,317.94 L225.47,317.47 L226.78,316.99 L228.12,316.44 L229.59,315.82 L231.11,315.14 L232.63,314.46 L234.07,313.80 L235.37,313.20 L236.46,312.70 L237.27,312.33 L236.73,310.87 L235.87,311.12 L234.72,311.47 L233.35,311.88 L231.83,312.33 L230.25,312.79 L228.67,313.25 L227.17,313.66 L225.82,314.01 L224.54,314.32 L223.20,314.62 L221.84,314.91 L220.52,315.18 L219.27,315.43 L218.15,315.65 L217.20,315.84 L216.48,315.99ZM214.92,318.00a2.08,2.08 0 1,0 4.16,0a2.08,2.08 0 1,0 -4.16,0ZM236.22,311.60a0.78,0.78 0 1,0 1.56,0a0.78,0.78 0 1,0 -1.56,0Z"/>
<path stroke="none" d="M247.78,282.51 L247.58,283.42 L247.34,284.63 L247.06,286.05 L246.74,287.61 L246.39,289.24 L246.01,290.87 L245.62,292.41 L245.22,293.80 L244.76,295.16 L244.20,296.63 L243.59,298.14 L242.95,299.64 L242.32,301.05 L241.75,302.33 L241.27,303.41 L240.91,304.23 L242.29,304.97 L242.77,304.23 L243.42,303.26 L244.21,302.10 L245.08,300.79 L245.98,299.38 L246.86,297.92 L247.68,296.45 L248.38,295.00 L248.98,293.50 L249.54,291.87 L250.05,290.18 L250.51,288.52 L250.93,286.94 L251.28,285.52 L251.58,284.36 L251.82,283.49ZM247.72,283.00a2.08,2.08 0 1,0 4.16,0a2.08,2.08 0 1,0 -4.16,0ZM240.82,304.60a0.78,0.78 0 1,0 1.56,0a0.78,0.78 0 1,0 -1.56,0Z"/>
<path stroke="none" d="M246.06,299.57 L260.59,299.16 L260.41,296.04 L245.94,297.23ZM244.83,298.40a1.17,1.17 0 1,0 2.34,0a1.17,1.17 0 1,0 -2.34,0ZM258.94,297.60a1.56,1.56 0 1,0 3.12,0a1.56,1.56 0 1,0 -3.12,0Z"/>
<path stroke="none" d="M259.17,296.36 L259.00,296.56 L258.78,296.83 L258.53,297.14 L258.25,297.48 L257.96,297.83 L257.68,298.19 L257.40,298.53 L257.16,298.84 L256.90,299.17 L256.60,299.54 L256.28,299.93 L255.96,300.33 L255.64,300.72 L255.35,301.06 L255.11,301.36 L254.93,301.58 L255.87,302.82 L256.13,302.70 L256.48,302.55 L256.89,302.37 L257.36,302.17 L257.85,301.94 L258.34,301.69 L258.81,301.43 L259.24,301.16 L259.65,300.86 L260.05,300.53 L260.44,300.19 L260.80,299.85 L261.13,299.52 L261.42,299.24 L261.65,299.01 L261.83,298.84ZM258.68,297.60a1.82,1.82 0 1,0 3.64,0a1.82,1.82 0 1,0 -3.64,0ZM254.62,302.20a0.78,0.78 0 1,0 1.56,0a0.78,0.78 0 1,0 -1.56,0Z"/>
<path stroke="none" d="M245.71,301.52 L245.49,302.44 L245.23,303.65 L244.92,305.07 L244.57,306.64 L244.18,308.28 L243.75,309.92 L243.31,311.51 L242.84,312.96 L242.28,314.43 L241.60,316.05 L240.83,317.74 L240.04,319.42 L239.27,321.02 L238.56,322.47 L237.96,323.69 L237.52,324.61 L238.88,325.39 L239.44,324.55 L240.21,323.44 L241.14,322.12 L242.16,320.63 L243.21,319.05 L244.23,317.42 L245.17,315.80 L245.96,314.24 L246.63,312.65 L247.22,310.96 L247.74,309.23 L248.21,307.54 L248.62,305.95 L248.96,304.52 L249.25,303.35 L249.49,302.48ZM245.65,302.00a1.95,1.95 0 1,0 3.90,0a1.95,1.95 0 1,0 -3.90,0ZM237.42,325.00a0.78,0.78 0 1,0 1.56,0a0.78,0.78 0 1,0 -1.56,0Z"/>
<path stroke="none" d="M245.99,305.96 L246.53,306.85 L247.26,308.08 L248.13,309.55 L249.10,311.17 L250.11,312.84 L251.12,314.47 L252.09,315.96 L252.96,317.23 L253.76,318.30 L254.53,319.25 L255.28,320.12 L256.00,320.89 L256.71,321.60 L257.39,322.24 L258.03,322.82 L258.68,323.37 L259.34,323.91 L260.00,324.41 L260.65,324.85 L261.28,325.23 L261.90,325.56 L262.50,325.83 L263.09,326.04 L263.71,326.20 L264.41,326.30 L265.14,326.31 L265.83,326.23 L266.48,326.10 L267.06,325.94 L267.56,325.78 L267.96,325.65 L268.27,325.57 L268.53,324.03 L268.24,323.85 L267.87,323.60 L267.44,323.32 L266.99,323.00 L266.52,322.68 L266.08,322.35 L265.68,322.06 L265.29,321.80 L264.86,321.56 L264.39,321.34 L263.92,321.14 L263.45,320.94 L262.96,320.73 L262.45,320.49 L261.91,320.20 L261.32,319.83 L260.67,319.39 L260.00,318.95 L259.32,318.48 L258.62,317.98 L257.91,317.42 L257.17,316.77 L256.41,316.03 L255.64,315.17 L254.77,314.07 L253.79,312.70 L252.74,311.16 L251.69,309.55 L250.68,307.98 L249.76,306.54 L248.99,305.32 L248.41,304.44ZM245.77,305.20a1.43,1.43 0 1,0 2.86,0a1.43,1.43 0 1,0 -2.86,0ZM267.62,324.80a0.78,0.78 0 1,0 1.56,0a0.78,0.78 0 1,0 -1.56,0Z"/>
<path stroke="none" d="M287.71,279.94 L287.37,280.73 L286.96,281.72 L286.50,282.85 L285.98,284.12 L285.37,285.50 L284.68,286.96 L283.89,288.49 L283.00,290.05 L281.88,291.83 L280.48,293.92 L278.91,296.20 L277.28,298.52 L275.68,300.77 L274.21,302.82 L272.98,304.54 L272.09,305.80 L273.11,306.60 L274.13,305.45 L275.53,303.88 L277.21,302.00 L279.05,299.93 L280.94,297.78 L282.76,295.66 L284.42,293.68 L285.80,291.95 L286.94,290.38 L287.97,288.84 L288.89,287.36 L289.70,285.98 L290.40,284.73 L291.00,283.63 L291.49,282.74 L291.89,282.06ZM287.46,281.00a2.34,2.34 0 1,0 4.68,0a2.34,2.34 0 1,0 -4.68,0ZM271.95,306.20a0.65,0.65 0 1,0 1.30,0a0.65,0.65 0 1,0 -1.30,0Z"/>
<path stroke="none" d="M285.55,291.96 L296.58,290.82 L296.22,287.98 L285.25,289.64ZM284.23,290.80a1.17,1.17 0 1,0 2.34,0a1.17,1.17 0 1,0 -2.34,0ZM294.97,289.40a1.43,1.43 0 1,0 2.86,0a1.43,1.43 0 1,0 -2.86,0Z"/>
<path stroke="none" d="M281.13,300.36 L293.86,299.22 L293.54,296.38 L280.87,298.04ZM279.83,299.20a1.17,1.17 0 1,0 2.34,0a1.17,1.17 0 1,0 -2.34,0ZM292.27,297.80a1.43,1.43 0 1,0 2.86,0a1.43,1.43 0 1,0 -2.86,0Z"/>
<path stroke="none" d="M280.04,310.34 L293.20,307.80 L292.60,305.00 L279.56,308.06ZM278.63,309.20a1.17,1.17 0 1,0 2.34,0a1.17,1.17 0 1,0 -2.34,0ZM291.47,306.40a1.43,1.43 0 1,0 2.86,0a1.43,1.43 0 1,0 -2.86,0Z"/>
<path stroke="none" d="M285.01,299.92 L284.29,320.63 L297.18,313.07 L296.02,311.33 L287.31,318.17 L288.39,300.08ZM285.01,300.00a1.69,1.69 0 1,0 3.38,0a1.69,1.69 0 1,0 -3.38,0ZM295.56,312.20a1.04,1.04 0 1,0 2.08,0a1.04,1.04 0 1,0 -2.08,0Z"/>
<path stroke="none" d="M297.71,293.51 L298.84,309.10 L301.96,308.90 L301.09,293.29ZM297.71,293.40a1.69,1.69 0 1,0 3.38,0a1.69,1.69 0 1,0 -3.38,0ZM298.84,309.00a1.56,1.56 0 1,0 3.12,0a1.56,1.56 0 1,0 -3.12,0Z"/>
<path stroke="none" d="M299.53,294.76 L319.07,292.95 L318.73,289.85 L299.27,292.44ZM298.23,293.60a1.17,1.17 0 1,0 2.34,0a1.17,1.17 0 1,0 -2.34,0ZM317.34,291.40a1.56,1.56 0 1,0 3.12,0a1.56,1.56 0 1,0 -3.12,0Z"/>
<path stroke="none" d="M316.54,290.89 L316.98,291.96 L316.64,308.94 L319.76,309.06 L320.62,292.04 L320.66,290.31ZM316.52,290.60a2.08,2.08 0 1,0 4.16,0a2.08,2.08 0 1,0 -4.16,0ZM316.64,309.00a1.56,1.56 0 1,0 3.12,0a1.56,1.56 0 1,0 -3.12,0Z"/>
<path stroke="none" d="M301.28,302.17 L317.88,300.97 L317.72,298.63 L301.12,299.83ZM300.03,301.00a1.17,1.17 0 1,0 2.34,0a1.17,1.17 0 1,0 -2.34,0ZM316.63,299.80a1.17,1.17 0 1,0 2.34,0a1.17,1.17 0 1,0 -2.34,0Z"/>
<path stroke="none" d="M301.04,309.97 L317.84,309.37 L317.76,307.03 L300.96,307.63ZM299.83,308.80a1.17,1.17 0 1,0 2.34,0a1.17,1.17 0 1,0 -2.34,0ZM316.63,308.20a1.17,1.17 0 1,0 2.34,0a1.17,1.17 0 1,0 -2.34,0Z"/>
<path stroke="none" d="M307.11,292.60 L307.50,331.40 L310.10,331.40 L310.49,292.60ZM307.11,292.60a1.69,1.69 0 1,0 3.38,0a1.69,1.69 0 1,0 -3.38,0ZM307.50,331.40a1.30,1.30 0 1,0 2.60,0a1.30,1.30 0 1,0 -2.60,0Z"/>
<path stroke="none" d="M341.29,283.19 L340.98,283.95 L340.61,284.91 L340.20,286.01 L339.72,287.24 L339.17,288.58 L338.53,290.01 L337.81,291.53 L336.98,293.09 L335.92,294.89 L334.60,297.03 L333.12,299.36 L331.58,301.75 L330.06,304.06 L328.68,306.16 L327.52,307.92 L326.67,309.22 L327.73,309.98 L328.70,308.79 L330.04,307.16 L331.64,305.22 L333.40,303.08 L335.20,300.86 L336.94,298.68 L338.52,296.66 L339.82,294.91 L340.91,293.34 L341.87,291.81 L342.73,290.36 L343.48,289.01 L344.13,287.80 L344.68,286.74 L345.14,285.88 L345.51,285.21ZM341.06,284.20a2.34,2.34 0 1,0 4.68,0a2.34,2.34 0 1,0 -4.68,0ZM326.55,309.60a0.65,0.65 0 1,0 1.30,0a0.65,0.65 0 1,0 -1.30,0Z"/>
<path stroke="none" d="M339.25,295.56 L348.48,294.62 L348.12,291.78 L338.95,293.24ZM337.93,294.40a1.17,1.17 0 1,0 2.34,0a1.17,1.17 0 1,0 -2.34,0ZM346.87,293.20a1.43,1.43 0 1,0 2.86,0a1.43,1.43 0 1,0 -2.86,0Z"/>
<path stroke="none" d="M335.42,303.56 L347.34,302.62 L347.06,299.78 L335.18,301.24ZM334.13,302.40a1.17,1.17 0 1,0 2.34,0a1.17,1.17 0 1,0 -2.34,0ZM345.77,301.20a1.43,1.43 0 1,0 2.86,0a1.43,1.43 0 1,0 -2.86,0Z"/>
<path stroke="none" d="M332.87,313.94 L347.52,310.79 L346.88,308.01 L332.33,311.66ZM331.43,312.80a1.17,1.17 0 1,0 2.34,0a1.17,1.17 0 1,0 -2.34,0ZM345.77,309.40a1.43,1.43 0 1,0 2.86,0a1.43,1.43 0 1,0 -2.86,0Z"/>
<path stroke="none" d="M339.61,302.83 L338.62,325.40 L349.11,319.65 L347.89,317.95 L342.18,323.80 L342.99,302.97ZM339.61,302.90a1.69,1.69 0 1,0 3.38,0a1.69,1.69 0 1,0 -3.38,0ZM347.46,318.80a1.04,1.04 0 1,0 2.08,0a1.04,1.04 0 1,0 -2.08,0Z"/>
<path stroke="none" d="M354.15,285.37 L354.26,285.58 L354.41,285.87 L354.57,286.20 L354.76,286.57 L354.96,286.95 L355.18,287.32 L355.39,287.66 L355.61,287.95 L355.86,288.21 L356.17,288.49 L356.51,288.77 L356.86,289.04 L357.20,289.30 L357.51,289.53 L357.78,289.73 L357.97,289.88 L360.23,288.12 L360.13,287.90 L360.01,287.60 L359.86,287.24 L359.69,286.83 L359.50,286.41 L359.28,286.00 L359.05,285.60 L358.79,285.25 L358.49,284.94 L358.14,284.65 L357.78,284.38 L357.40,284.13 L357.04,283.91 L356.72,283.72 L356.45,283.56 L356.25,283.43ZM353.77,284.40a1.43,1.43 0 1,0 2.86,0a1.43,1.43 0 1,0 -2.86,0ZM357.67,289.00a1.43,1.43 0 1,0 2.86,0a1.43,1.43 0 1,0 -2.86,0Z"/>
<path stroke="none" d="M368.98,280.69 L368.80,280.96 L368.56,281.30 L368.28,281.71 L367.97,282.17 L367.64,282.65 L367.31,283.15 L366.99,283.65 L366.70,284.12 L366.41,284.61 L366.10,285.16 L365.78,285.74 L365.47,286.31 L365.17,286.86 L364.90,287.36 L364.68,287.78 L364.51,288.09 L365.69,289.11 L365.97,288.89 L366.35,288.61 L366.81,288.27 L367.31,287.89 L367.83,287.48 L368.35,287.07 L368.85,286.67 L369.30,286.28 L369.72,285.89 L370.15,285.47 L370.58,285.04 L370.99,284.61 L371.37,284.20 L371.71,283.84 L372.00,283.53 L372.22,283.31ZM368.52,282.00a2.08,2.08 0 1,0 4.16,0a2.08,2.08 0 1,0 -4.16,0ZM364.32,288.60a0.78,0.78 0 1,0 1.56,0a0.78,0.78 0 1,0 -1.56,0Z"/>
<path stroke="none" d="M354.42,294.56 L371.75,293.02 L371.45,290.18 L354.18,292.24ZM353.13,293.40a1.17,1.17 0 1,0 2.34,0a1.17,1.17 0 1,0 -2.34,0ZM370.17,291.60a1.43,1.43 0 1,0 2.86,0a1.43,1.43 0 1,0 -2.86,0Z"/>
<path stroke="none" d="M355.49,300.37 L370.01,299.53 L369.79,296.67 L355.31,298.03ZM354.23,299.20a1.17,1.17 0 1,0 2.34,0a1.17,1.17 0 1,0 -2.34,0ZM368.47,298.10a1.43,1.43 0 1,0 2.86,0a1.43,1.43 0 1,0 -2.86,0Z"/>
<path stroke="none" d="M353.77,305.77 L371.09,304.93 L370.91,302.07 L353.63,303.43ZM352.53,304.60a1.17,1.17 0 1,0 2.34,0a1.17,1.17 0 1,0 -2.34,0ZM369.57,303.50a1.43,1.43 0 1,0 2.86,0a1.43,1.43 0 1,0 -2.86,0Z"/>
<path stroke="none" d="M360.84,289.00 L360.84,304.60 L363.96,304.60 L363.96,289.00ZM360.84,289.00a1.56,1.56 0 1,0 3.12,0a1.56,1.56 0 1,0 -3.12,0ZM360.84,304.60a1.56,1.56 0 1,0 3.12,0a1.56,1.56 0 1,0 -3.12,0Z"/>
<path stroke="none" d="M350.58,313.97 L377.50,312.56 L377.30,309.44 L350.42,311.63ZM349.33,312.80a1.17,1.17 0 1,0 2.34,0a1.17,1.17 0 1,0 -2.34,0ZM375.84,311.00a1.56,1.56 0 1,0 3.12,0a1.56,1.56 0 1,0 -3.12,0Z"/>
<path stroke="none" d="M360.07,305.25 L359.82,306.09 L359.53,307.20 L359.21,308.46 L358.84,309.84 L358.41,311.25 L357.91,312.65 L357.35,313.95 L356.73,315.10 L355.91,316.25 L354.82,317.53 L353.55,318.87 L352.21,320.20 L350.89,321.47 L349.66,322.61 L348.63,323.57 L347.88,324.30 L348.72,325.30 L349.55,324.69 L350.70,323.90 L352.09,322.95 L353.61,321.87 L355.18,320.71 L356.71,319.48 L358.10,318.21 L359.27,316.90 L360.21,315.49 L360.99,313.97 L361.64,312.40 L362.18,310.86 L362.62,309.42 L362.98,308.13 L363.28,307.10 L363.53,306.35ZM359.98,305.80a1.82,1.82 0 1,0 3.64,0a1.82,1.82 0 1,0 -3.64,0ZM347.65,324.80a0.65,0.65 0 1,0 1.30,0a0.65,0.65 0 1,0 -1.30,0Z"/>
<path stroke="none" d="M360.84,314.68 L361.38,315.30 L362.11,316.17 L362.98,317.21 L363.95,318.36 L364.97,319.53 L365.97,320.67 L366.93,321.71 L367.79,322.58 L368.55,323.29 L369.25,323.91 L369.92,324.46 L370.57,324.95 L371.21,325.36 L371.85,325.71 L372.49,326.00 L373.20,326.26 L374.04,326.47 L374.98,326.60 L375.92,326.66 L376.85,326.66 L377.72,326.64 L378.49,326.60 L379.13,326.56 L379.61,326.56 L379.99,325.04 L379.56,324.81 L378.99,324.49 L378.32,324.11 L377.59,323.70 L376.83,323.27 L376.10,322.85 L375.42,322.47 L374.80,322.14 L374.19,321.86 L373.59,321.64 L373.03,321.46 L372.49,321.29 L371.94,321.10 L371.35,320.85 L370.70,320.50 L370.01,320.02 L369.19,319.35 L368.23,318.47 L367.18,317.46 L366.11,316.38 L365.08,315.32 L364.14,314.34 L363.35,313.52 L362.76,312.92ZM360.50,313.80a1.30,1.30 0 1,0 2.60,0a1.30,1.30 0 1,0 -2.60,0ZM379.02,325.80a0.78,0.78 0 1,0 1.56,0a0.78,0.78 0 1,0 -1.56,0Z"/>
<path stroke="none" d="M390.56,295.47 L407.14,292.46 L406.46,289.14 L390.04,292.93ZM389.00,294.20a1.30,1.30 0 1,0 2.60,0a1.30,1.30 0 1,0 -2.60,0ZM405.11,290.80a1.69,1.69 0 1,0 3.38,0a1.69,1.69 0 1,0 -3.38,0Z"/>
<path stroke="none" d="M395.59,292.25 L395.32,293.34 L394.99,294.78 L394.61,296.47 L394.18,298.32 L393.68,300.27 L393.13,302.23 L392.53,304.13 L391.87,305.88 L391.06,307.67 L390.05,309.65 L388.91,311.73 L387.73,313.79 L386.57,315.76 L385.50,317.54 L384.60,319.04 L383.95,320.17 L385.25,321.03 L386.02,319.99 L387.08,318.62 L388.35,316.97 L389.75,315.13 L391.19,313.17 L392.58,311.17 L393.86,309.20 L394.93,307.32 L395.82,305.41 L396.61,303.39 L397.31,301.34 L397.92,299.33 L398.46,297.44 L398.91,295.77 L399.29,294.38 L399.61,293.35ZM395.52,292.80a2.08,2.08 0 1,0 4.16,0a2.08,2.08 0 1,0 -4.16,0ZM383.82,320.60a0.78,0.78 0 1,0 1.56,0a0.78,0.78 0 1,0 -1.56,0Z"/>
<path stroke="none" d="M392.32,306.95 L393.35,317.33 L396.45,317.07 L395.68,306.65ZM392.31,306.80a1.69,1.69 0 1,0 3.38,0a1.69,1.69 0 1,0 -3.38,0ZM393.34,317.20a1.56,1.56 0 1,0 3.12,0a1.56,1.56 0 1,0 -3.12,0Z"/>
<path stroke="none" d="M394.15,307.96 L404.69,306.82 L404.31,303.98 L393.85,305.64ZM392.83,306.80a1.17,1.17 0 1,0 2.34,0a1.17,1.17 0 1,0 -2.34,0ZM403.07,305.40a1.43,1.43 0 1,0 2.86,0a1.43,1.43 0 1,0 -2.86,0Z"/>
<path stroke="none" d="M402.91,304.92 L402.54,315.33 L405.66,315.47 L406.29,305.08ZM402.91,305.00a1.69,1.69 0 1,0 3.38,0a1.69,1.69 0 1,0 -3.38,0ZM402.54,315.40a1.56,1.56 0 1,0 3.12,0a1.56,1.56 0 1,0 -3.12,0Z"/>
<path stroke="none" d="M395.03,317.36 L404.23,316.36 L403.97,314.04 L394.77,315.04ZM393.73,316.20a1.17,1.17 0 1,0 2.34,0a1.17,1.17 0 1,0 -2.34,0ZM402.93,315.20a1.17,1.17 0 1,0 2.34,0a1.17,1.17 0 1,0 -2.34,0Z"/>
<path stroke="none" d="M411.35,288.48 L411.34,289.14 L411.32,290.01 L411.29,291.04 L411.26,292.19 L411.23,293.40 L411.20,294.63 L411.16,295.81 L411.11,296.91 L411.08,297.94 L411.05,298.94 L411.03,299.90 L411.01,300.84 L410.96,301.77 L410.89,302.71 L410.79,303.68 L410.63,304.73 L410.44,305.88 L410.23,307.10 L410.00,308.33 L409.74,309.58 L409.44,310.82 L409.09,312.04 L408.69,313.23 L408.22,314.37 L407.61,315.58 L406.80,316.93 L405.88,318.36 L404.89,319.78 L403.91,321.13 L403.01,322.36 L402.25,323.40 L401.70,324.19 L402.70,325.01 L403.36,324.34 L404.27,323.45 L405.37,322.39 L406.57,321.18 L407.81,319.89 L409.01,318.55 L410.09,317.18 L410.98,315.83 L411.67,314.47 L412.22,313.10 L412.66,311.71 L413.02,310.33 L413.31,308.99 L413.55,307.69 L413.76,306.45 L413.97,305.27 L414.15,304.12 L414.27,303.01 L414.33,301.96 L414.37,300.95 L414.39,299.97 L414.40,299.02 L414.43,298.07 L414.49,297.09 L414.57,296.01 L414.68,294.84 L414.79,293.62 L414.90,292.41 L415.01,291.26 L415.10,290.23 L415.19,289.36 L415.25,288.72ZM411.35,288.60a1.95,1.95 0 1,0 3.90,0a1.95,1.95 0 1,0 -3.90,0ZM401.55,324.60a0.65,0.65 0 1,0 1.30,0a0.65,0.65 0 1,0 -1.30,0Z"/>
<path stroke="none" d="M413.45,290.06 L426.29,288.62 L425.91,285.78 L413.15,287.74ZM412.13,288.90a1.17,1.17 0 1,0 2.34,0a1.17,1.17 0 1,0 -2.34,0ZM424.67,287.20a1.43,1.43 0 1,0 2.86,0a1.43,1.43 0 1,0 -2.86,0Z"/>
<path stroke="none" d="M423.72,286.47 L423.79,287.37 L423.88,288.56 L423.99,289.97 L424.10,291.54 L424.22,293.20 L424.34,294.89 L424.43,296.52 L424.51,298.04 L424.55,299.48 L424.56,300.96 L424.56,302.46 L424.55,303.96 L424.54,305.46 L424.56,306.93 L424.62,308.37 L424.72,309.75 L424.85,311.07 L425.01,312.37 L425.20,313.65 L425.41,314.89 L425.65,316.09 L425.94,317.23 L426.27,318.30 L426.67,319.31 L427.16,320.26 L427.75,321.11 L428.38,321.84 L429.04,322.47 L429.69,323.00 L430.32,323.44 L430.90,323.78 L431.41,324.04 L431.92,324.25 L432.49,324.41 L433.16,324.49 L433.95,324.37 L434.71,323.99 L435.28,323.42 L435.64,322.78 L435.89,322.06 L436.04,321.20 L436.10,320.20 L436.13,319.08 L436.12,317.92 L436.10,316.77 L436.07,315.73 L436.05,314.87 L436.04,314.26 L433.96,314.14 L433.88,314.76 L433.79,315.64 L433.68,316.67 L433.56,317.78 L433.41,318.88 L433.25,319.89 L433.07,320.68 L432.91,321.14 L432.78,321.31 L432.73,321.32 L432.83,321.18 L433.08,321.03 L433.29,320.97 L433.34,320.94 L433.23,320.88 L432.99,320.76 L432.64,320.58 L432.23,320.35 L431.78,320.08 L431.31,319.75 L430.85,319.37 L430.43,318.94 L430.05,318.45 L429.73,317.89 L429.45,317.18 L429.18,316.32 L428.93,315.35 L428.72,314.28 L428.53,313.14 L428.36,311.94 L428.21,310.70 L428.08,309.45 L427.98,308.18 L427.92,306.83 L427.89,305.42 L427.88,303.96 L427.88,302.47 L427.89,300.96 L427.89,299.45 L427.89,297.96 L427.88,296.42 L427.87,294.77 L427.87,293.08 L427.87,291.41 L427.87,289.83 L427.88,288.41 L427.88,287.22 L427.88,286.33ZM423.72,286.40a2.08,2.08 0 1,0 4.16,0a2.08,2.08 0 1,0 -4.16,0ZM433.96,314.20a1.04,1.04 0 1,0 2.08,0a1.04,1.04 0 1,0 -2.08,0Z"/>
<path stroke="none" d="M413.76,299.21 L413.88,299.47 L414.03,299.83 L414.21,300.24 L414.41,300.70 L414.62,301.18 L414.84,301.66 L415.07,302.12 L415.29,302.53 L415.54,302.95 L415.83,303.40 L416.15,303.88 L416.48,304.36 L416.80,304.81 L417.09,305.22 L417.34,305.57 L417.52,305.83 L420.08,304.57 L419.99,304.27 L419.87,303.87 L419.72,303.38 L419.56,302.84 L419.37,302.28 L419.17,301.71 L418.95,301.16 L418.71,300.67 L418.44,300.20 L418.13,299.73 L417.80,299.28 L417.47,298.85 L417.14,298.45 L416.85,298.10 L416.61,297.82 L416.44,297.59ZM413.54,298.40a1.56,1.56 0 1,0 3.12,0a1.56,1.56 0 1,0 -3.12,0ZM417.37,305.20a1.43,1.43 0 1,0 2.86,0a1.43,1.43 0 1,0 -2.86,0Z"/>
<path stroke="none" d="M570.57,294.17 L570.75,294.38 L570.98,294.67 L571.25,295.01 L571.55,295.38 L571.87,295.77 L572.21,296.14 L572.55,296.48 L572.87,296.77 L573.23,297.02 L573.65,297.27 L574.11,297.51 L574.57,297.74 L575.02,297.95 L575.43,298.14 L575.78,298.30 L576.03,298.42 L577.97,295.98 L577.79,295.76 L577.56,295.46 L577.29,295.10 L576.98,294.71 L576.64,294.30 L576.28,293.91 L575.90,293.54 L575.53,293.23 L575.12,292.97 L574.66,292.74 L574.18,292.53 L573.70,292.34 L573.24,292.18 L572.82,292.04 L572.48,291.93 L572.23,291.83ZM569.97,293.00a1.43,1.43 0 1,0 2.86,0a1.43,1.43 0 1,0 -2.86,0ZM575.44,297.20a1.56,1.56 0 1,0 3.12,0a1.56,1.56 0 1,0 -3.12,0Z"/>
<path stroke="none" d="M566.47,306.23 L566.64,306.41 L566.86,306.66 L567.12,306.96 L567.40,307.27 L567.69,307.60 L567.98,307.91 L568.26,308.18 L568.51,308.39 L568.78,308.58 L569.13,308.77 L569.51,308.97 L569.90,309.17 L570.29,309.35 L570.65,309.52 L570.96,309.67 L571.19,309.79 L573.21,307.41 L573.08,307.22 L572.90,306.94 L572.68,306.61 L572.42,306.23 L572.13,305.84 L571.82,305.46 L571.47,305.11 L571.09,304.81 L570.68,304.56 L570.23,304.36 L569.76,304.20 L569.30,304.08 L568.87,303.97 L568.48,303.89 L568.16,303.83 L567.93,303.77ZM565.77,305.00a1.43,1.43 0 1,0 2.86,0a1.43,1.43 0 1,0 -2.86,0ZM570.64,308.60a1.56,1.56 0 1,0 3.12,0a1.56,1.56 0 1,0 -3.12,0Z"/>
<path stroke="none" d="M569.85,329.73 L570.11,329.18 L570.44,328.47 L570.84,327.64 L571.27,326.71 L571.74,325.72 L572.22,324.70 L572.70,323.70 L573.16,322.74 L573.64,321.74 L574.19,320.62 L574.77,319.45 L575.35,318.27 L575.91,317.14 L576.41,316.12 L576.84,315.26 L577.15,314.63 L575.85,313.77 L575.39,314.32 L574.78,315.05 L574.04,315.92 L573.23,316.88 L572.38,317.90 L571.54,318.93 L570.74,319.93 L570.04,320.86 L569.39,321.77 L568.75,322.73 L568.11,323.70 L567.51,324.64 L566.96,325.53 L566.47,326.32 L566.06,326.98 L565.75,327.47ZM565.46,328.60a2.34,2.34 0 1,0 4.68,0a2.34,2.34 0 1,0 -4.68,0ZM575.72,314.20a0.78,0.78 0 1,0 1.56,0a0.78,0.78 0 1,0 -1.56,0Z"/>
<path stroke="none" d="M580.94,298.71 L581.02,298.90 L581.14,299.14 L581.26,299.42 L581.39,299.72 L581.53,300.02 L581.67,300.31 L581.79,300.56 L581.91,300.77 L582.04,300.96 L582.21,301.19 L582.41,301.44 L582.61,301.70 L582.82,301.96 L583.00,302.20 L583.17,302.41 L583.29,302.57 L585.91,301.43 L585.88,301.25 L585.85,301.00 L585.82,300.70 L585.76,300.35 L585.69,299.97 L585.59,299.59 L585.46,299.20 L585.29,298.83 L585.08,298.49 L584.83,298.17 L584.56,297.88 L584.28,297.61 L584.02,297.37 L583.79,297.17 L583.60,297.01 L583.46,296.89ZM580.64,297.80a1.56,1.56 0 1,0 3.12,0a1.56,1.56 0 1,0 -3.12,0ZM583.17,302.00a1.43,1.43 0 1,0 2.86,0a1.43,1.43 0 1,0 -2.86,0Z"/>
<path stroke="none" d="M602.79,292.47 L602.59,292.69 L602.33,292.97 L602.02,293.32 L601.66,293.70 L601.29,294.12 L600.92,294.54 L600.56,294.97 L600.23,295.38 L599.91,295.81 L599.57,296.28 L599.24,296.78 L598.92,297.26 L598.62,297.73 L598.35,298.15 L598.12,298.50 L597.95,298.76 L599.25,300.04 L599.51,299.87 L599.86,299.64 L600.27,299.36 L600.73,299.06 L601.21,298.74 L601.69,298.42 L602.16,298.11 L602.57,297.82 L602.98,297.53 L603.41,297.21 L603.85,296.88 L604.29,296.55 L604.69,296.23 L605.06,295.95 L605.37,295.71 L605.61,295.53ZM602.12,294.00a2.08,2.08 0 1,0 4.16,0a2.08,2.08 0 1,0 -4.16,0ZM597.69,299.40a0.91,0.91 0 1,0 1.82,0a0.91,0.91 0 1,0 -1.82,0Z"/>
<path stroke="none" d="M589.53,287.24 L589.49,287.93 L589.46,288.84 L589.42,289.90 L589.38,291.08 L589.32,292.30 L589.24,293.51 L589.14,294.66 L589.01,295.70 L588.86,296.67 L588.71,297.61 L588.56,298.49 L588.39,299.34 L588.19,300.17 L587.94,301.02 L587.62,301.91 L587.23,302.86 L586.69,303.95 L585.97,305.23 L585.14,306.61 L584.25,308.01 L583.37,309.37 L582.56,310.60 L581.87,311.64 L581.38,312.41 L582.42,313.19 L583.02,312.52 L583.86,311.62 L584.87,310.54 L585.98,309.34 L587.11,308.07 L588.20,306.78 L589.18,305.52 L589.97,304.34 L590.58,303.25 L591.06,302.20 L591.45,301.18 L591.75,300.19 L591.99,299.21 L592.19,298.26 L592.39,297.30 L592.59,296.30 L592.81,295.17 L593.00,293.92 L593.16,292.64 L593.30,291.37 L593.42,290.17 L593.52,289.10 L593.60,288.22 L593.67,287.56ZM589.52,287.40a2.08,2.08 0 1,0 4.16,0a2.08,2.08 0 1,0 -4.16,0ZM581.25,312.80a0.65,0.65 0 1,0 1.30,0a0.65,0.65 0 1,0 -1.30,0Z"/>
<path stroke="none" d="M592.06,303.68 L592.47,303.91 L593.03,304.25 L593.70,304.65 L594.45,305.09 L595.24,305.53 L596.03,305.95 L596.79,306.31 L597.51,306.58 L598.19,306.76 L598.86,306.85 L599.48,306.88 L600.06,306.86 L600.58,306.82 L601.02,306.76 L601.37,306.72 L601.64,306.70 L601.96,304.90 L601.68,304.79 L601.33,304.64 L600.94,304.46 L600.51,304.27 L600.06,304.06 L599.61,303.84 L599.15,303.63 L598.69,303.42 L598.14,303.18 L597.46,302.88 L596.69,302.55 L595.89,302.21 L595.11,301.88 L594.39,301.57 L593.78,301.31 L593.34,301.12ZM591.27,302.40a1.43,1.43 0 1,0 2.86,0a1.43,1.43 0 1,0 -2.86,0ZM600.89,305.80a0.91,0.91 0 1,0 1.82,0a0.91,0.91 0 1,0 -1.82,0Z"/>
<path stroke="none" d="M578.24,315.43 L578.38,315.58 L578.56,315.79 L578.76,316.03 L578.99,316.30 L579.22,316.57 L579.46,316.83 L579.69,317.06 L579.90,317.25 L580.13,317.43 L580.40,317.61 L580.69,317.81 L581.00,318.00 L581.30,318.18 L581.57,318.34 L581.80,318.49 L581.98,318.60 L584.02,316.60 L583.92,316.43 L583.79,316.20 L583.64,315.92 L583.45,315.60 L583.24,315.27 L583.02,314.94 L582.77,314.63 L582.50,314.35 L582.20,314.10 L581.87,313.87 L581.53,313.66 L581.19,313.48 L580.86,313.32 L580.57,313.17 L580.33,313.06 L580.16,312.97ZM577.64,314.20a1.56,1.56 0 1,0 3.12,0a1.56,1.56 0 1,0 -3.12,0ZM581.57,317.60a1.43,1.43 0 1,0 2.86,0a1.43,1.43 0 1,0 -2.86,0Z"/>
<path stroke="none" d="M602.78,309.59 L602.55,309.75 L602.24,309.96 L601.86,310.22 L601.45,310.50 L601.01,310.81 L600.57,311.12 L600.15,311.43 L599.76,311.73 L599.39,312.05 L598.99,312.39 L598.59,312.75 L598.21,313.11 L597.85,313.45 L597.52,313.76 L597.25,314.02 L597.04,314.21 L597.96,315.79 L598.23,315.70 L598.59,315.59 L599.02,315.46 L599.49,315.31 L599.99,315.16 L600.50,314.99 L600.99,314.83 L601.44,314.67 L601.89,314.49 L602.36,314.30 L602.86,314.09 L603.34,313.87 L603.80,313.67 L604.21,313.49 L604.56,313.33 L604.82,313.21ZM601.72,311.40a2.08,2.08 0 1,0 4.16,0a2.08,2.08 0 1,0 -4.16,0ZM596.59,315.00a0.91,0.91 0 1,0 1.82,0a0.91,0.91 0 1,0 -1.82,0Z"/>
<path stroke="none" d="M589.06,309.56 L588.99,310.26 L588.91,311.19 L588.82,312.24 L588.72,313.39 L588.58,314.57 L588.40,315.73 L588.17,316.81 L587.89,317.76 L587.54,318.68 L587.12,319.64 L586.63,320.59 L586.10,321.55 L585.52,322.49 L584.90,323.43 L584.24,324.34 L583.56,325.22 L582.79,326.11 L581.86,327.06 L580.84,328.02 L579.78,328.97 L578.75,329.87 L577.80,330.67 L577.00,331.36 L576.41,331.88 L577.19,332.92 L577.84,332.51 L578.73,331.97 L579.81,331.33 L580.99,330.60 L582.23,329.81 L583.46,328.96 L584.62,328.08 L585.64,327.18 L586.53,326.27 L587.37,325.34 L588.16,324.36 L588.90,323.35 L589.59,322.31 L590.22,321.25 L590.79,320.16 L591.31,319.04 L591.74,317.80 L592.07,316.47 L592.32,315.14 L592.51,313.84 L592.65,312.62 L592.76,311.54 L592.85,310.68 L592.94,310.04ZM589.05,309.80a1.95,1.95 0 1,0 3.90,0a1.95,1.95 0 1,0 -3.90,0ZM576.15,332.40a0.65,0.65 0 1,0 1.30,0a0.65,0.65 0 1,0 -1.30,0Z"/>
<path stroke="none" d="M590.08,320.89 L590.64,321.39 L591.40,322.09 L592.32,322.92 L593.34,323.85 L594.43,324.81 L595.54,325.76 L596.64,326.65 L597.69,327.42 L598.71,328.10 L599.75,328.72 L600.79,329.30 L601.81,329.84 L602.80,330.32 L603.72,330.75 L604.57,331.14 L605.32,331.47 L606.00,331.76 L606.61,332.01 L607.17,332.21 L607.70,332.37 L608.21,332.48 L608.70,332.55 L609.18,332.59 L609.72,332.59 L610.36,332.55 L611.05,332.43 L611.74,332.26 L612.40,332.06 L613.03,331.85 L613.58,331.65 L614.04,331.49 L614.38,331.38 L614.42,329.82 L614.08,329.69 L613.61,329.51 L613.07,329.30 L612.48,329.07 L611.88,328.83 L611.29,328.60 L610.75,328.38 L610.28,328.21 L609.85,328.07 L609.45,327.97 L609.11,327.89 L608.78,327.83 L608.43,327.76 L608.02,327.67 L607.52,327.53 L606.88,327.33 L606.11,327.08 L605.24,326.81 L604.31,326.53 L603.35,326.21 L602.36,325.87 L601.38,325.48 L600.42,325.05 L599.51,324.58 L598.57,323.99 L597.52,323.24 L596.42,322.40 L595.32,321.53 L594.28,320.66 L593.34,319.87 L592.53,319.20 L591.92,318.71ZM589.57,319.80a1.43,1.43 0 1,0 2.86,0a1.43,1.43 0 1,0 -2.86,0ZM613.62,330.60a0.78,0.78 0 1,0 1.56,0a0.78,0.78 0 1,0 -1.56,0Z"/>
<path stroke="none" d="M639.87,288.36 L639.97,289.25 L640.12,290.41 L640.29,291.78 L640.48,293.30 L640.67,294.95 L640.84,296.65 L640.98,298.36 L641.08,300.04 L641.13,301.73 L641.15,303.49 L641.14,305.30 L641.12,307.17 L641.08,309.08 L641.04,311.02 L641.00,312.99 L640.98,314.99 L640.99,317.17 L641.05,319.58 L641.12,322.09 L641.18,324.56 L641.21,326.87 L641.19,328.87 L641.09,330.39 L640.98,331.15 L641.34,330.97 L641.69,331.00 L641.22,330.86 L640.42,330.35 L639.54,329.66 L638.70,328.92 L637.96,328.29 L637.43,327.91 L636.57,328.89 L636.94,329.31 L637.48,330.05 L638.16,330.97 L638.93,331.95 L639.79,332.85 L640.86,333.58 L642.52,333.67 L643.82,332.45 L644.30,330.92 L644.53,329.08 L644.65,326.93 L644.68,324.54 L644.66,322.02 L644.63,319.51 L644.60,317.14 L644.62,315.01 L644.66,313.05 L644.69,311.08 L644.71,309.13 L644.72,307.21 L644.73,305.32 L644.73,303.48 L644.72,301.69 L644.72,299.96 L644.71,298.22 L644.69,296.45 L644.66,294.70 L644.63,293.02 L644.60,291.46 L644.57,290.08 L644.55,288.93 L644.53,288.04ZM639.86,288.20a2.34,2.34 0 1,0 4.68,0a2.34,2.34 0 1,0 -4.68,0ZM636.35,328.40a0.65,0.65 0 1,0 1.30,0a0.65,0.65 0 1,0 -1.30,0Z"/>
<path stroke="none" d="M622.57,307.69 L637.64,306.20 L637.16,302.60 L622.23,305.11ZM621.10,306.40a1.30,1.30 0 1,0 2.60,0a1.30,1.30 0 1,0 -2.60,0ZM635.58,304.40a1.82,1.82 0 1,0 3.64,0a1.82,1.82 0 1,0 -3.64,0Z"/>
<path stroke="none" d="M635.27,303.82 L635.10,304.29 L634.90,304.89 L634.68,305.56 L634.43,306.31 L634.13,307.12 L633.80,307.97 L633.43,308.84 L633.00,309.74 L632.49,310.70 L631.92,311.76 L631.30,312.87 L630.64,314.01 L629.94,315.17 L629.23,316.33 L628.50,317.46 L627.77,318.54 L626.97,319.65 L626.06,320.86 L625.07,322.11 L624.07,323.35 L623.10,324.52 L622.23,325.58 L621.48,326.47 L620.93,327.15 L621.87,328.05 L622.52,327.49 L623.40,326.75 L624.46,325.86 L625.63,324.87 L626.85,323.80 L628.07,322.68 L629.21,321.56 L630.23,320.46 L631.13,319.35 L632.00,318.20 L632.81,317.01 L633.59,315.82 L634.32,314.65 L634.99,313.52 L635.62,312.45 L636.20,311.46 L636.74,310.50 L637.24,309.54 L637.68,308.63 L638.07,307.78 L638.41,307.00 L638.70,306.33 L638.94,305.80 L639.13,305.38ZM635.12,304.60a2.08,2.08 0 1,0 4.16,0a2.08,2.08 0 1,0 -4.16,0ZM620.75,327.60a0.65,0.65 0 1,0 1.30,0a0.65,0.65 0 1,0 -1.30,0Z"/>
<path stroke="none" d="M657.62,293.06 L657.13,293.61 L656.49,294.35 L655.73,295.21 L654.90,296.17 L654.01,297.18 L653.12,298.20 L652.25,299.17 L651.44,300.07 L650.63,300.96 L649.74,301.91 L648.82,302.89 L647.90,303.86 L647.04,304.77 L646.25,305.59 L645.59,306.28 L645.09,306.81 L646.11,307.99 L646.70,307.58 L647.48,307.04 L648.42,306.40 L649.47,305.68 L650.57,304.91 L651.69,304.11 L652.76,303.31 L653.76,302.53 L654.73,301.72 L655.75,300.82 L656.78,299.89 L657.78,298.97 L658.72,298.08 L659.56,297.29 L660.26,296.63 L660.78,296.14ZM656.99,294.60a2.21,2.21 0 1,0 4.42,0a2.21,2.21 0 1,0 -4.42,0ZM644.82,307.40a0.78,0.78 0 1,0 1.56,0a0.78,0.78 0 1,0 -1.56,0Z"/>
<path stroke="none" d="M643.43,306.55 L644.12,307.34 L645.03,308.44 L646.12,309.76 L647.35,311.21 L648.66,312.72 L650.01,314.20 L651.36,315.56 L652.66,316.73 L653.98,317.73 L655.35,318.63 L656.74,319.43 L658.10,320.15 L659.40,320.78 L660.61,321.34 L661.66,321.82 L662.55,322.24 L663.28,322.59 L663.90,322.87 L664.45,323.09 L664.96,323.25 L665.41,323.34 L665.80,323.38 L666.17,323.38 L666.65,323.38 L667.33,323.36 L668.12,323.27 L668.95,323.14 L669.78,322.99 L670.58,322.82 L671.30,322.66 L671.90,322.53 L672.33,322.45 L672.47,321.15 L672.05,320.98 L671.48,320.74 L670.80,320.45 L670.07,320.14 L669.31,319.82 L668.58,319.51 L667.92,319.24 L667.35,319.02 L666.85,318.86 L666.43,318.76 L666.16,318.70 L665.98,318.68 L665.79,318.65 L665.47,318.58 L664.98,318.43 L664.25,318.16 L663.29,317.81 L662.18,317.43 L660.97,317.01 L659.70,316.55 L658.40,316.04 L657.11,315.46 L655.88,314.80 L654.74,314.07 L653.57,313.13 L652.29,311.95 L650.96,310.60 L649.64,309.19 L648.39,307.80 L647.26,306.52 L646.30,305.44 L645.57,304.65ZM643.07,305.60a1.43,1.43 0 1,0 2.86,0a1.43,1.43 0 1,0 -2.86,0ZM671.75,321.80a0.65,0.65 0 1,0 1.30,0a0.65,0.65 0 1,0 -1.30,0Z"/>
<path stroke="none" d="M456.62,437.31 L456.06,438.13 L455.31,439.22 L454.43,440.51 L453.45,441.94 L452.41,443.44 L451.35,444.94 L450.31,446.39 L449.33,447.72 L448.32,449.03 L447.20,450.44 L446.02,451.89 L444.85,453.31 L443.73,454.65 L442.71,455.87 L441.86,456.88 L441.22,457.66 L442.13,458.54 L442.88,457.89 L443.89,457.03 L445.09,456.00 L446.43,454.86 L447.83,453.63 L449.24,452.36 L450.60,451.10 L451.83,449.88 L453.03,448.62 L454.26,447.25 L455.49,445.82 L456.69,444.40 L457.81,443.05 L458.80,441.84 L459.64,440.84 L460.27,440.09ZM456.15,438.70a2.29,2.29 0 1,0 4.58,0a2.29,2.29 0 1,0 -4.58,0ZM441.04,458.10a0.64,0.64 0 1,0 1.27,0a0.64,0.64 0 1,0 -1.27,0Z"/>
<path stroke="none" d="M458.56,430.81 L459.44,431.76 L460.62,433.07 L462.04,434.62 L463.60,436.34 L465.24,438.12 L466.87,439.86 L468.42,441.47 L469.81,442.86 L471.09,444.07 L472.34,445.21 L473.56,446.28 L474.75,447.28 L475.88,448.20 L476.96,449.05 L477.97,449.82 L478.92,450.51 L479.81,451.13 L480.62,451.67 L481.37,452.12 L482.07,452.49 L482.72,452.78 L483.32,453.01 L483.88,453.18 L484.48,453.31 L485.19,453.41 L485.95,453.41 L486.70,453.34 L487.42,453.23 L488.07,453.09 L488.65,452.95 L489.12,452.83 L489.48,452.76 L489.74,451.51 L489.42,451.30 L489.01,451.02 L488.53,450.68 L488.00,450.31 L487.46,449.93 L486.90,449.56 L486.38,449.23 L485.84,448.94 L485.26,448.70 L484.68,448.53 L484.15,448.41 L483.63,448.30 L483.08,448.17 L482.48,447.99 L481.78,447.71 L480.97,447.29 L480.04,446.75 L479.01,446.12 L477.91,445.42 L476.74,444.64 L475.53,443.79 L474.28,442.87 L473.00,441.87 L471.71,440.80 L470.29,439.54 L468.70,438.04 L467.01,436.40 L465.30,434.71 L463.67,433.07 L462.20,431.58 L460.96,430.32 L460.03,429.40ZM458.28,430.11a1.02,1.02 0 1,0 2.04,0a1.02,1.02 0 1,0 -2.04,0ZM488.97,452.14a0.64,0.64 0 1,0 1.27,0a0.64,0.64 0 1,0 -1.27,0Z"/>
<path stroke="none" d="M451.73,458.65 L473.11,455.59 L472.58,452.32 L451.33,456.14ZM450.26,457.39a1.27,1.27 0 1,0 2.55,0a1.27,1.27 0 1,0 -2.55,0ZM471.19,453.96a1.65,1.65 0 1,0 3.31,0a1.65,1.65 0 1,0 -3.31,0Z"/>
<path stroke="none" d="M470.72,453.94 L470.65,454.84 L470.55,456.04 L470.44,457.46 L470.31,459.02 L470.17,460.65 L470.02,462.28 L469.85,463.81 L469.66,465.19 L469.47,466.55 L469.26,467.99 L469.04,469.42 L468.81,470.78 L468.58,472.00 L468.33,473.00 L468.12,473.68 L468.11,473.86 L468.55,473.76 L468.62,473.84 L468.18,473.72 L467.54,473.36 L466.86,472.88 L466.21,472.38 L465.63,471.94 L465.21,471.67 L464.38,472.63 L464.65,472.96 L465.04,473.51 L465.54,474.20 L466.12,474.95 L466.78,475.67 L467.59,476.30 L468.80,476.63 L470.19,476.10 L470.96,475.11 L471.44,474.02 L471.82,472.80 L472.14,471.44 L472.42,470.01 L472.68,468.55 L472.93,467.12 L473.18,465.76 L473.44,464.33 L473.69,462.74 L473.92,461.08 L474.14,459.43 L474.34,457.85 L474.51,456.43 L474.66,455.25 L474.77,454.38ZM470.71,454.16a2.04,2.04 0 1,0 4.07,0a2.04,2.04 0 1,0 -4.07,0ZM464.16,472.15a0.64,0.64 0 1,0 1.27,0a0.64,0.64 0 1,0 -1.27,0Z"/>
<path stroke="none" d="M458.65,456.57 L458.14,457.38 L457.49,458.45 L456.74,459.69 L455.91,461.06 L455.01,462.48 L454.08,463.88 L453.14,465.19 L452.23,466.35 L451.23,467.46 L450.05,468.65 L448.76,469.86 L447.44,471.05 L446.17,472.17 L445.00,473.17 L444.01,474.02 L443.29,474.67 L444.05,475.69 L444.86,475.18 L445.97,474.52 L447.30,473.73 L448.77,472.84 L450.31,471.86 L451.85,470.83 L453.31,469.75 L454.62,468.65 L455.82,467.44 L456.99,466.10 L458.12,464.69 L459.17,463.27 L460.14,461.93 L460.98,460.73 L461.68,459.74 L462.22,459.02ZM458.27,457.80a2.16,2.16 0 1,0 4.33,0a2.16,2.16 0 1,0 -4.33,0ZM443.03,475.18a0.64,0.64 0 1,0 1.27,0a0.64,0.64 0 1,0 -1.27,0Z"/>
<path stroke="none" d="M505.62,428.43 L505.29,428.98 L504.85,429.70 L504.33,430.55 L503.76,431.49 L503.15,432.48 L502.53,433.48 L501.92,434.45 L501.33,435.35 L500.72,436.26 L500.04,437.26 L499.31,438.29 L498.58,439.32 L497.87,440.30 L497.24,441.19 L496.70,441.93 L496.30,442.49 L497.47,443.53 L497.98,443.07 L498.66,442.47 L499.48,441.74 L500.38,440.93 L501.33,440.07 L502.28,439.18 L503.18,438.31 L504.00,437.46 L504.77,436.61 L505.56,435.68 L506.33,434.73 L507.07,433.80 L507.76,432.91 L508.37,432.12 L508.88,431.47 L509.27,430.98ZM505.22,429.70a2.22,2.22 0 1,0 4.45,0a2.22,2.22 0 1,0 -4.45,0ZM496.10,443.01a0.78,0.78 0 1,0 1.57,0a0.78,0.78 0 1,0 -1.57,0Z"/>
<path stroke="none" d="M503.73,437.31 L514.71,437.09 L514.52,433.69 L503.59,434.70ZM502.35,436.00a1.31,1.31 0 1,0 2.62,0a1.31,1.31 0 1,0 -2.62,0ZM512.92,435.39a1.70,1.70 0 1,0 3.40,0a1.70,1.70 0 1,0 -3.40,0Z"/>
<path stroke="none" d="M512.96,434.61 L512.86,434.87 L512.73,435.21 L512.58,435.60 L512.42,436.02 L512.25,436.46 L512.08,436.88 L511.93,437.27 L511.79,437.61 L511.65,437.94 L511.48,438.32 L511.29,438.72 L511.09,439.12 L510.89,439.51 L510.70,439.86 L510.54,440.17 L510.42,440.40 L511.84,441.56 L512.03,441.41 L512.30,441.21 L512.62,440.96 L512.98,440.68 L513.36,440.36 L513.75,440.02 L514.12,439.66 L514.45,439.27 L514.76,438.85 L515.05,438.40 L515.32,437.94 L515.57,437.49 L515.80,437.07 L515.99,436.69 L516.15,436.39 L516.27,436.17ZM512.79,435.39a1.83,1.83 0 1,0 3.66,0a1.83,1.83 0 1,0 -3.66,0ZM510.22,440.98a0.92,0.92 0 1,0 1.83,0a0.92,0.92 0 1,0 -1.83,0Z"/>
<path stroke="none" d="M499.64,443.24 L499.62,443.96 L499.60,444.91 L499.58,446.03 L499.55,447.29 L499.51,448.61 L499.47,449.97 L499.43,451.30 L499.37,452.57 L499.32,453.83 L499.27,455.15 L499.23,456.49 L499.17,457.82 L499.10,459.11 L499.01,460.34 L498.89,461.49 L498.74,462.51 L498.55,463.43 L498.32,464.29 L498.06,465.09 L497.78,465.86 L497.48,466.61 L497.16,467.35 L496.83,468.09 L496.52,468.83 L496.20,469.57 L495.85,470.32 L495.49,471.08 L495.11,471.82 L494.75,472.52 L494.42,473.14 L494.15,473.67 L493.94,474.08 L495.26,474.92 L495.53,474.57 L495.90,474.11 L496.35,473.56 L496.85,472.93 L497.37,472.24 L497.90,471.52 L498.40,470.76 L498.85,470.01 L499.26,469.30 L499.66,468.58 L500.07,467.82 L500.47,467.02 L500.85,466.16 L501.21,465.23 L501.53,464.22 L501.81,463.13 L502.04,461.94 L502.21,460.68 L502.35,459.36 L502.45,458.01 L502.54,456.65 L502.61,455.30 L502.69,454.00 L502.77,452.76 L502.86,451.48 L502.94,450.13 L503.02,448.76 L503.09,447.42 L503.16,446.17 L503.21,445.04 L503.26,444.10 L503.30,443.39ZM499.64,443.32a1.83,1.83 0 1,0 3.66,0a1.83,1.83 0 1,0 -3.66,0ZM493.81,474.50a0.78,0.78 0 1,0 1.57,0a0.78,0.78 0 1,0 -1.57,0Z"/>
<path stroke="none" d="M501.57,444.62 L515.33,443.86 L515.10,440.74 L501.37,442.01ZM500.16,443.32a1.31,1.31 0 1,0 2.62,0a1.31,1.31 0 1,0 -2.62,0ZM513.65,442.30a1.57,1.57 0 1,0 3.14,0a1.57,1.57 0 1,0 -3.14,0Z"/>
<path stroke="none" d="M513.38,442.26 L513.37,443.37 L513.35,444.84 L513.33,446.59 L513.30,448.53 L513.28,450.60 L513.26,452.70 L513.23,454.76 L513.22,456.71 L513.22,458.70 L513.26,460.87 L513.32,463.10 L513.36,465.30 L513.39,467.34 L513.38,469.12 L513.31,470.50 L513.23,471.27 L513.44,471.14 L514.12,471.02 L514.04,471.07 L513.54,470.81 L512.92,470.36 L512.31,469.85 L511.75,469.39 L511.34,469.13 L510.33,470.33 L510.56,470.61 L510.93,471.13 L511.41,471.82 L511.98,472.56 L512.68,473.25 L513.71,473.79 L515.32,473.48 L516.21,472.25 L516.52,470.88 L516.67,469.26 L516.72,467.35 L516.72,465.25 L516.67,463.03 L516.63,460.81 L516.60,458.68 L516.62,456.74 L516.67,454.83 L516.73,452.77 L516.79,450.67 L516.85,448.61 L516.91,446.67 L516.97,444.92 L517.01,443.45 L517.04,442.34ZM513.38,442.30a1.83,1.83 0 1,0 3.66,0a1.83,1.83 0 1,0 -3.66,0ZM510.05,469.73a0.78,0.78 0 1,0 1.57,0a0.78,0.78 0 1,0 -1.57,0Z"/>
<path stroke="none" d="M506.47,443.01 L506.61,462.82 L509.48,462.82 L509.61,443.01ZM506.47,443.01a1.57,1.57 0 1,0 3.14,0a1.57,1.57 0 1,0 -3.14,0ZM506.61,462.82a1.44,1.44 0 1,0 2.88,0a1.44,1.44 0 1,0 -2.88,0Z"/>
<path stroke="none" d="M501.72,452.42 L514.76,451.91 L514.67,449.56 L501.62,450.06ZM500.49,451.24a1.18,1.18 0 1,0 2.35,0a1.18,1.18 0 1,0 -2.35,0ZM513.54,450.73a1.18,1.18 0 1,0 2.35,0a1.18,1.18 0 1,0 -2.35,0Z"/>
<path stroke="none" d="M501.31,460.75 L514.75,460.34 L514.68,457.99 L501.24,458.39ZM500.09,459.57a1.18,1.18 0 1,0 2.35,0a1.18,1.18 0 1,0 -2.35,0ZM513.54,459.16a1.18,1.18 0 1,0 2.35,0a1.18,1.18 0 1,0 -2.35,0Z"/>
<path stroke="none" d="M521.45,436.08 L537.74,434.44 L537.31,431.06 L521.13,433.48ZM519.98,434.78a1.31,1.31 0 1,0 2.62,0a1.31,1.31 0 1,0 -2.62,0ZM535.82,432.75a1.70,1.70 0 1,0 3.40,0a1.70,1.70 0 1,0 -3.40,0Z"/>
<path stroke="none" d="M535.58,432.47 L535.54,432.91 L535.48,433.49 L535.41,434.18 L535.34,434.96 L535.25,435.78 L535.18,436.62 L535.10,437.45 L535.04,438.28 L535.00,439.16 L535.02,440.10 L535.05,441.03 L535.08,441.89 L535.08,442.64 L535.06,443.20 L535.05,443.43 L535.30,443.26 L535.66,443.20 L535.46,443.25 L534.89,443.15 L534.18,442.93 L533.43,442.64 L532.72,442.34 L532.10,442.08 L531.65,441.92 L531.05,443.09 L531.40,443.33 L531.90,443.73 L532.52,444.22 L533.22,444.75 L533.97,445.26 L534.78,445.68 L535.74,445.92 L536.96,445.61 L537.76,444.69 L538.08,443.77 L538.22,442.86 L538.28,441.93 L538.30,441.00 L538.31,440.10 L538.34,439.29 L538.42,438.60 L538.54,437.90 L538.69,437.10 L538.84,436.29 L538.99,435.48 L539.14,434.73 L539.27,434.04 L539.38,433.47 L539.47,433.03ZM535.56,432.75a1.96,1.96 0 1,0 3.92,0a1.96,1.96 0 1,0 -3.92,0ZM530.70,442.50a0.65,0.65 0 1,0 1.31,0a0.65,0.65 0 1,0 -1.31,0Z"/>
<path stroke="none" d="M528.42,434.56 L528.14,435.18 L527.77,436.00 L527.34,436.97 L526.86,438.03 L526.35,439.14 L525.83,440.25 L525.32,441.31 L524.85,442.26 L524.35,443.18 L523.80,444.17 L523.21,445.18 L522.61,446.18 L522.04,447.12 L521.53,447.96 L521.09,448.68 L520.77,449.22 L521.81,450.00 L522.24,449.54 L522.81,448.94 L523.49,448.22 L524.25,447.40 L525.05,446.52 L525.84,445.61 L526.60,444.68 L527.30,443.77 L527.95,442.80 L528.60,441.75 L529.25,440.64 L529.86,439.55 L530.44,438.51 L530.94,437.57 L531.37,436.79 L531.69,436.22ZM528.22,435.39a1.83,1.83 0 1,0 3.66,0a1.83,1.83 0 1,0 -3.66,0ZM520.64,449.61a0.65,0.65 0 1,0 1.31,0a0.65,0.65 0 1,0 -1.31,0Z"/>
<path stroke="none" d="M521.36,448.16 L521.21,448.50 L521.02,448.95 L520.79,449.49 L520.54,450.08 L520.27,450.70 L520.01,451.32 L519.76,451.92 L519.54,452.46 L519.33,453.00 L519.10,453.58 L518.87,454.18 L518.64,454.77 L518.43,455.33 L518.23,455.84 L518.07,456.26 L517.94,456.58 L519.06,457.27 L519.29,457.02 L519.60,456.69 L519.97,456.29 L520.38,455.85 L520.81,455.37 L521.25,454.87 L521.66,454.37 L522.04,453.88 L522.41,453.36 L522.79,452.80 L523.16,452.21 L523.53,451.63 L523.86,451.07 L524.17,450.57 L524.42,450.16 L524.61,449.85ZM521.15,449.00a1.83,1.83 0 1,0 3.66,0a1.83,1.83 0 1,0 -3.66,0ZM517.85,456.93a0.65,0.65 0 1,0 1.31,0a0.65,0.65 0 1,0 -1.31,0Z"/>
<path stroke="none" d="M523.68,454.75 L537.04,453.76 L536.82,451.16 L523.48,452.40ZM522.40,453.58a1.18,1.18 0 1,0 2.35,0a1.18,1.18 0 1,0 -2.35,0ZM535.62,452.46a1.31,1.31 0 1,0 2.62,0a1.31,1.31 0 1,0 -2.62,0Z"/>
<path stroke="none" d="M515.72,462.30 L543.22,460.09 L542.98,457.22 L515.50,459.69ZM514.31,460.99a1.31,1.31 0 1,0 2.62,0a1.31,1.31 0 1,0 -2.62,0ZM541.66,458.66a1.44,1.44 0 1,0 2.88,0a1.44,1.44 0 1,0 -2.88,0Z"/>
<path stroke="none" d="M527.86,448.37 L527.72,479.87 L530.60,479.91 L531.26,448.42ZM527.86,448.40a1.70,1.70 0 1,0 3.40,0a1.70,1.70 0 1,0 -3.40,0ZM527.72,479.89a1.44,1.44 0 1,0 2.88,0a1.44,1.44 0 1,0 -2.88,0Z"/>
</g>
</svg></div>
</body></html>
